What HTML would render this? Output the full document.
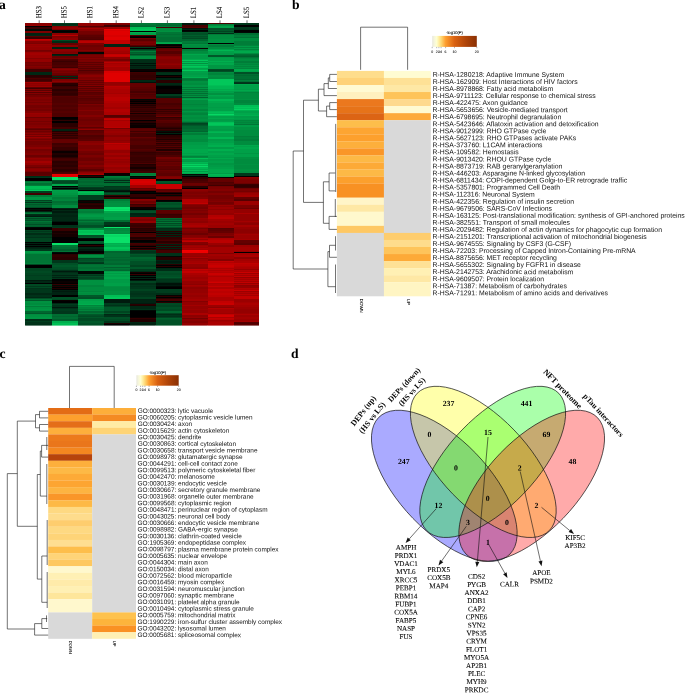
<!DOCTYPE html>
<html><head><meta charset="utf-8"><title>Figure</title><style>html,body{margin:0;padding:0;background:#fff}svg{display:block}</style></head><body>
<svg text-rendering="geometricPrecision" width="685" height="693" viewBox="0 0 685 693">
<rect width="685" height="693" fill="#fff"/>
<g shape-rendering="crispEdges">
<rect x="25.1" y="23" width="27.1" height="2" fill="#8c0000"/>
<rect x="25.1" y="25" width="27.1" height="1" fill="#940000"/>
<rect x="25.1" y="26" width="27.1" height="1" fill="#000000"/>
<rect x="25.1" y="27" width="27.1" height="2" fill="#380000"/>
<rect x="25.1" y="29" width="27.1" height="2" fill="#000904"/>
<rect x="25.1" y="31" width="27.1" height="2" fill="#7c0000"/>
<rect x="25.1" y="33" width="27.1" height="2" fill="#002312"/>
<rect x="25.1" y="35" width="27.1" height="1" fill="#002814"/>
<rect x="25.1" y="36" width="27.1" height="1" fill="#550000"/>
<rect x="25.1" y="37" width="27.1" height="2" fill="#380000"/>
<rect x="25.1" y="39" width="27.1" height="1" fill="#c20000"/>
<rect x="25.1" y="40" width="27.1" height="1" fill="#b20000"/>
<rect x="25.1" y="41" width="27.1" height="2" fill="#840000"/>
<rect x="25.1" y="43" width="27.1" height="1" fill="#7c0000"/>
<rect x="25.1" y="44" width="27.1" height="1" fill="#9b0000"/>
<rect x="25.1" y="45" width="27.1" height="1" fill="#940000"/>
<rect x="25.1" y="46" width="27.1" height="1" fill="#9b0000"/>
<rect x="25.1" y="47" width="27.1" height="3" fill="#940000"/>
<rect x="25.1" y="50" width="27.1" height="1" fill="#740000"/>
<rect x="25.1" y="51" width="27.1" height="1" fill="#7c0000"/>
<rect x="25.1" y="52" width="27.1" height="1" fill="#9b0000"/>
<rect x="25.1" y="53" width="27.1" height="2" fill="#a30000"/>
<rect x="25.1" y="55" width="27.1" height="3" fill="#9b0000"/>
<rect x="25.1" y="58" width="27.1" height="1" fill="#840000"/>
<rect x="25.1" y="59" width="27.1" height="3" fill="#940000"/>
<rect x="25.1" y="62" width="27.1" height="1" fill="#740000"/>
<rect x="25.1" y="63" width="27.1" height="2" fill="#7c0000"/>
<rect x="25.1" y="65" width="27.1" height="1" fill="#740000"/>
<rect x="25.1" y="66" width="27.1" height="1" fill="#840000"/>
<rect x="25.1" y="67" width="27.1" height="1" fill="#7c0000"/>
<rect x="25.1" y="68" width="27.1" height="1" fill="#740000"/>
<rect x="25.1" y="69" width="27.1" height="3" fill="#3f0000"/>
<rect x="25.1" y="72" width="27.1" height="3" fill="#002814"/>
<rect x="25.1" y="75" width="27.1" height="2" fill="#2a0000"/>
<rect x="25.1" y="77" width="27.1" height="1" fill="#310000"/>
<rect x="25.1" y="78" width="27.1" height="1" fill="#4e0000"/>
<rect x="25.1" y="79" width="27.1" height="2" fill="#3f0000"/>
<rect x="25.1" y="81" width="27.1" height="1" fill="#4e0000"/>
<rect x="25.1" y="82" width="27.1" height="1" fill="#a30000"/>
<rect x="25.1" y="83" width="27.1" height="1" fill="#8c0000"/>
<rect x="25.1" y="84" width="27.1" height="1" fill="#940000"/>
<rect x="25.1" y="85" width="27.1" height="1" fill="#8c0000"/>
<rect x="25.1" y="86" width="27.1" height="1" fill="#9b0000"/>
<rect x="25.1" y="87" width="27.1" height="1" fill="#5c0000"/>
<rect x="25.1" y="88" width="27.1" height="1" fill="#3f0000"/>
<rect x="25.1" y="89" width="27.1" height="1" fill="#7c0000"/>
<rect x="25.1" y="90" width="27.1" height="1" fill="#5c0000"/>
<rect x="25.1" y="91" width="27.1" height="1" fill="#8c0000"/>
<rect x="25.1" y="92" width="27.1" height="1" fill="#550000"/>
<rect x="25.1" y="93" width="27.1" height="1" fill="#840000"/>
<rect x="25.1" y="94" width="27.1" height="1" fill="#640000"/>
<rect x="25.1" y="95" width="27.1" height="2" fill="#740000"/>
<rect x="25.1" y="97" width="27.1" height="2" fill="#840000"/>
<rect x="25.1" y="99" width="27.1" height="2" fill="#7c0000"/>
<rect x="25.1" y="101" width="27.1" height="1" fill="#840000"/>
<rect x="25.1" y="102" width="27.1" height="1" fill="#740000"/>
<rect x="25.1" y="103" width="27.1" height="2" fill="#840000"/>
<rect x="25.1" y="105" width="27.1" height="3" fill="#740000"/>
<rect x="25.1" y="108" width="27.1" height="1" fill="#7c0000"/>
<rect x="25.1" y="109" width="27.1" height="2" fill="#740000"/>
<rect x="25.1" y="111" width="27.1" height="2" fill="#840000"/>
<rect x="25.1" y="113" width="27.1" height="1" fill="#9b0000"/>
<rect x="25.1" y="114" width="27.1" height="3" fill="#940000"/>
<rect x="25.1" y="117" width="27.1" height="1" fill="#6c0000"/>
<rect x="25.1" y="118" width="27.1" height="3" fill="#840000"/>
<rect x="25.1" y="121" width="27.1" height="1" fill="#740000"/>
<rect x="25.1" y="122" width="27.1" height="1" fill="#840000"/>
<rect x="25.1" y="123" width="27.1" height="2" fill="#7c0000"/>
<rect x="25.1" y="125" width="27.1" height="2" fill="#840000"/>
<rect x="25.1" y="127" width="27.1" height="1" fill="#8c0000"/>
<rect x="25.1" y="128" width="27.1" height="1" fill="#6c0000"/>
<rect x="25.1" y="129" width="27.1" height="1" fill="#5c0000"/>
<rect x="25.1" y="130" width="27.1" height="1" fill="#7c0000"/>
<rect x="25.1" y="131" width="27.1" height="1" fill="#6c0000"/>
<rect x="25.1" y="132" width="27.1" height="1" fill="#7c0000"/>
<rect x="25.1" y="133" width="27.1" height="1" fill="#8c0000"/>
<rect x="25.1" y="134" width="27.1" height="1" fill="#740000"/>
<rect x="25.1" y="135" width="27.1" height="1" fill="#940000"/>
<rect x="25.1" y="136" width="27.1" height="1" fill="#740000"/>
<rect x="25.1" y="137" width="27.1" height="1" fill="#9b0000"/>
<rect x="25.1" y="138" width="27.1" height="1" fill="#840000"/>
<rect x="25.1" y="139" width="27.1" height="1" fill="#740000"/>
<rect x="25.1" y="140" width="27.1" height="1" fill="#840000"/>
<rect x="25.1" y="141" width="27.1" height="4" fill="#740000"/>
<rect x="25.1" y="145" width="27.1" height="2" fill="#7c0000"/>
<rect x="25.1" y="147" width="27.1" height="2" fill="#8c0000"/>
<rect x="25.1" y="149" width="27.1" height="2" fill="#740000"/>
<rect x="25.1" y="151" width="27.1" height="2" fill="#7c0000"/>
<rect x="25.1" y="153" width="27.1" height="2" fill="#840000"/>
<rect x="25.1" y="155" width="27.1" height="2" fill="#6c0000"/>
<rect x="25.1" y="157" width="27.1" height="1" fill="#7c0000"/>
<rect x="25.1" y="158" width="27.1" height="1" fill="#940000"/>
<rect x="25.1" y="159" width="27.1" height="2" fill="#8c0000"/>
<rect x="25.1" y="161" width="27.1" height="2" fill="#a30000"/>
<rect x="25.1" y="163" width="27.1" height="2" fill="#940000"/>
<rect x="25.1" y="165" width="27.1" height="2" fill="#7c0000"/>
<rect x="25.1" y="167" width="27.1" height="1" fill="#6c0000"/>
<rect x="25.1" y="168" width="27.1" height="1" fill="#840000"/>
<rect x="25.1" y="169" width="27.1" height="2" fill="#8c0000"/>
<rect x="25.1" y="171" width="27.1" height="1" fill="#7c0000"/>
<rect x="25.1" y="172" width="27.1" height="3" fill="#5c0000"/>
<rect x="25.1" y="175" width="27.1" height="1" fill="#640000"/>
<rect x="25.1" y="176" width="27.1" height="1" fill="#002d16"/>
<rect x="25.1" y="177" width="27.1" height="1" fill="#00371b"/>
<rect x="25.1" y="178" width="27.1" height="3" fill="#000000"/>
<rect x="25.1" y="181" width="27.1" height="1" fill="#007635"/>
<rect x="25.1" y="182" width="27.1" height="1" fill="#00843b"/>
<rect x="25.1" y="183" width="27.1" height="2" fill="#006e32"/>
<rect x="25.1" y="185" width="27.1" height="1" fill="#007d38"/>
<rect x="25.1" y="186" width="27.1" height="3" fill="#00be55"/>
<rect x="25.1" y="189" width="27.1" height="1" fill="#00af4e"/>
<rect x="25.1" y="190" width="27.1" height="1" fill="#02c75a"/>
<rect x="25.1" y="191" width="27.1" height="2" fill="#003d1e"/>
<rect x="25.1" y="193" width="27.1" height="1" fill="#460000"/>
<rect x="25.1" y="194" width="27.1" height="1" fill="#3f0000"/>
<rect x="25.1" y="195" width="27.1" height="2" fill="#007d38"/>
<rect x="25.1" y="197" width="27.1" height="3" fill="#009643"/>
<rect x="25.1" y="200" width="27.1" height="1" fill="#004420"/>
<rect x="25.1" y="201" width="27.1" height="1" fill="#00662f"/>
<rect x="25.1" y="202" width="27.1" height="1" fill="#00371b"/>
<rect x="25.1" y="203" width="27.1" height="1" fill="#006e32"/>
<rect x="25.1" y="204" width="27.1" height="1" fill="#005829"/>
<rect x="25.1" y="205" width="27.1" height="2" fill="#00662f"/>
<rect x="25.1" y="207" width="27.1" height="1" fill="#005026"/>
<rect x="25.1" y="208" width="27.1" height="1" fill="#000000"/>
<rect x="25.1" y="209" width="27.1" height="1" fill="#001209"/>
<rect x="25.1" y="210" width="27.1" height="1" fill="#0a0000"/>
<rect x="25.1" y="211" width="27.1" height="1" fill="#002312"/>
<rect x="25.1" y="212" width="27.1" height="1" fill="#005f2c"/>
<rect x="25.1" y="213" width="27.1" height="1" fill="#007635"/>
<rect x="25.1" y="214" width="27.1" height="1" fill="#002d16"/>
<rect x="25.1" y="215" width="27.1" height="1" fill="#002814"/>
<rect x="25.1" y="216" width="27.1" height="1" fill="#001a0e"/>
<rect x="25.1" y="217" width="27.1" height="1" fill="#00662f"/>
<rect x="25.1" y="218" width="27.1" height="1" fill="#004a23"/>
<rect x="25.1" y="219" width="27.1" height="1" fill="#005f2c"/>
<rect x="25.1" y="220" width="27.1" height="1" fill="#005026"/>
<rect x="25.1" y="221" width="27.1" height="1" fill="#007635"/>
<rect x="25.1" y="222" width="27.1" height="2" fill="#00662f"/>
<rect x="25.1" y="224" width="27.1" height="1" fill="#005026"/>
<rect x="25.1" y="225" width="27.1" height="1" fill="#00662f"/>
<rect x="25.1" y="226" width="27.1" height="1" fill="#005f2c"/>
<rect x="25.1" y="227" width="27.1" height="1" fill="#000904"/>
<rect x="25.1" y="228" width="27.1" height="2" fill="#000000"/>
<rect x="25.1" y="230" width="27.1" height="1" fill="#004420"/>
<rect x="25.1" y="231" width="27.1" height="1" fill="#00371b"/>
<rect x="25.1" y="232" width="27.1" height="1" fill="#004420"/>
<rect x="25.1" y="233" width="27.1" height="2" fill="#002d16"/>
<rect x="25.1" y="235" width="27.1" height="2" fill="#003d1e"/>
<rect x="25.1" y="237" width="27.1" height="1" fill="#003219"/>
<rect x="25.1" y="238" width="27.1" height="4" fill="#004420"/>
<rect x="25.1" y="242" width="27.1" height="1" fill="#000000"/>
<rect x="25.1" y="243" width="27.1" height="1" fill="#002312"/>
<rect x="25.1" y="244" width="27.1" height="1" fill="#000000"/>
<rect x="25.1" y="245" width="27.1" height="1" fill="#002312"/>
<rect x="25.1" y="246" width="27.1" height="1" fill="#000000"/>
<rect x="25.1" y="247" width="27.1" height="1" fill="#002312"/>
<rect x="25.1" y="248" width="27.1" height="1" fill="#002814"/>
<rect x="25.1" y="249" width="27.1" height="2" fill="#00371b"/>
<rect x="25.1" y="251" width="27.1" height="2" fill="#009643"/>
<rect x="25.1" y="253" width="27.1" height="1" fill="#008c3e"/>
<rect x="25.1" y="254" width="27.1" height="9" fill="#007635"/>
<rect x="25.1" y="263" width="27.1" height="1" fill="#007d38"/>
<rect x="25.1" y="264" width="27.1" height="1" fill="#004a23"/>
<rect x="25.1" y="265" width="27.1" height="3" fill="#000000"/>
<rect x="25.1" y="268" width="27.1" height="3" fill="#004420"/>
<rect x="25.1" y="271" width="27.1" height="2" fill="#004a23"/>
<rect x="25.1" y="273" width="27.1" height="2" fill="#004420"/>
<rect x="25.1" y="275" width="27.1" height="1" fill="#003d1e"/>
<rect x="25.1" y="276" width="27.1" height="4" fill="#004420"/>
<rect x="25.1" y="280" width="27.1" height="1" fill="#001a0e"/>
<rect x="25.1" y="281" width="27.1" height="2" fill="#002814"/>
<rect x="25.1" y="283" width="27.1" height="1" fill="#000000"/>
<rect x="25.1" y="284" width="27.1" height="2" fill="#004a23"/>
<rect x="25.1" y="286" width="27.1" height="1" fill="#00371b"/>
<rect x="25.1" y="287" width="27.1" height="1" fill="#004a23"/>
<rect x="25.1" y="288" width="27.1" height="1" fill="#003219"/>
<rect x="25.1" y="289" width="27.1" height="4" fill="#00371b"/>
<rect x="25.1" y="293" width="27.1" height="2" fill="#002814"/>
<rect x="25.1" y="295" width="27.1" height="2" fill="#003219"/>
<rect x="25.1" y="297" width="27.1" height="1" fill="#002814"/>
<rect x="25.1" y="298" width="27.1" height="1" fill="#005026"/>
<rect x="25.1" y="299" width="27.1" height="1" fill="#006e32"/>
<rect x="25.1" y="300" width="27.1" height="1" fill="#005829"/>
<rect x="25.1" y="301" width="27.1" height="2" fill="#009140"/>
<rect x="25.1" y="303" width="27.1" height="2" fill="#008c3e"/>
<rect x="25.1" y="305" width="27.1" height="1" fill="#009643"/>
<rect x="25.1" y="306" width="27.1" height="1" fill="#007d38"/>
<rect x="25.1" y="307" width="27.1" height="2" fill="#009140"/>
<rect x="25.1" y="309" width="27.1" height="1" fill="#009643"/>
<rect x="25.1" y="310" width="27.1" height="1" fill="#009140"/>
<rect x="25.1" y="311" width="27.1" height="2" fill="#00662f"/>
<rect x="25.1" y="313" width="27.1" height="1" fill="#005829"/>
<rect x="25.1" y="314" width="27.1" height="1" fill="#008c3e"/>
<rect x="25.1" y="315" width="27.1" height="2" fill="#009140"/>
<rect x="25.1" y="317" width="27.1" height="2" fill="#009643"/>
<rect x="25.1" y="319" width="27.1" height="2" fill="#002d16"/>
<rect x="25.1" y="321" width="27.1" height="1" fill="#003d1e"/>
<rect x="25.1" y="322" width="27.1" height="3" fill="#003219"/>
<rect x="51.9" y="23" width="26.2" height="1" fill="#003d1e"/>
<rect x="51.9" y="24" width="26.2" height="1" fill="#002d16"/>
<rect x="51.9" y="25" width="26.2" height="1" fill="#00371b"/>
<rect x="51.9" y="26" width="26.2" height="1" fill="#840000"/>
<rect x="51.9" y="27" width="26.2" height="2" fill="#940000"/>
<rect x="51.9" y="29" width="26.2" height="1" fill="#7c0000"/>
<rect x="51.9" y="30" width="26.2" height="1" fill="#000904"/>
<rect x="51.9" y="31" width="26.2" height="1" fill="#000000"/>
<rect x="51.9" y="32" width="26.2" height="1" fill="#000904"/>
<rect x="51.9" y="33" width="26.2" height="2" fill="#8c0000"/>
<rect x="51.9" y="35" width="26.2" height="1" fill="#ba0000"/>
<rect x="51.9" y="36" width="26.2" height="1" fill="#7c0000"/>
<rect x="51.9" y="37" width="26.2" height="1" fill="#840000"/>
<rect x="51.9" y="38" width="26.2" height="2" fill="#8c0000"/>
<rect x="51.9" y="40" width="26.2" height="1" fill="#004a23"/>
<rect x="51.9" y="41" width="26.2" height="2" fill="#002d16"/>
<rect x="51.9" y="43" width="26.2" height="2" fill="#640000"/>
<rect x="51.9" y="45" width="26.2" height="2" fill="#8c0000"/>
<rect x="51.9" y="47" width="26.2" height="2" fill="#002312"/>
<rect x="51.9" y="49" width="26.2" height="2" fill="#8c0000"/>
<rect x="51.9" y="51" width="26.2" height="1" fill="#840000"/>
<rect x="51.9" y="52" width="26.2" height="1" fill="#7c0000"/>
<rect x="51.9" y="53" width="26.2" height="1" fill="#840000"/>
<rect x="51.9" y="54" width="26.2" height="1" fill="#001a0e"/>
<rect x="51.9" y="55" width="26.2" height="1" fill="#002814"/>
<rect x="51.9" y="56" width="26.2" height="2" fill="#640000"/>
<rect x="51.9" y="58" width="26.2" height="1" fill="#740000"/>
<rect x="51.9" y="59" width="26.2" height="1" fill="#4e0000"/>
<rect x="51.9" y="60" width="26.2" height="1" fill="#460000"/>
<rect x="51.9" y="61" width="26.2" height="1" fill="#380000"/>
<rect x="51.9" y="62" width="26.2" height="3" fill="#460000"/>
<rect x="51.9" y="65" width="26.2" height="2" fill="#4e0000"/>
<rect x="51.9" y="67" width="26.2" height="1" fill="#3f0000"/>
<rect x="51.9" y="68" width="26.2" height="1" fill="#7c0000"/>
<rect x="51.9" y="69" width="26.2" height="1" fill="#8c0000"/>
<rect x="51.9" y="70" width="26.2" height="1" fill="#7c0000"/>
<rect x="51.9" y="71" width="26.2" height="1" fill="#740000"/>
<rect x="51.9" y="72" width="26.2" height="1" fill="#7c0000"/>
<rect x="51.9" y="73" width="26.2" height="2" fill="#6c0000"/>
<rect x="51.9" y="75" width="26.2" height="1" fill="#550000"/>
<rect x="51.9" y="76" width="26.2" height="1" fill="#002d16"/>
<rect x="51.9" y="77" width="26.2" height="1" fill="#3f0000"/>
<rect x="51.9" y="78" width="26.2" height="1" fill="#002814"/>
<rect x="51.9" y="79" width="26.2" height="2" fill="#7c0000"/>
<rect x="51.9" y="81" width="26.2" height="1" fill="#8c0000"/>
<rect x="51.9" y="82" width="26.2" height="1" fill="#6c0000"/>
<rect x="51.9" y="83" width="26.2" height="2" fill="#2a0000"/>
<rect x="51.9" y="85" width="26.2" height="1" fill="#200000"/>
<rect x="51.9" y="86" width="26.2" height="1" fill="#380000"/>
<rect x="51.9" y="87" width="26.2" height="2" fill="#3f0000"/>
<rect x="51.9" y="89" width="26.2" height="2" fill="#2a0000"/>
<rect x="51.9" y="91" width="26.2" height="2" fill="#380000"/>
<rect x="51.9" y="93" width="26.2" height="2" fill="#310000"/>
<rect x="51.9" y="95" width="26.2" height="1" fill="#380000"/>
<rect x="51.9" y="96" width="26.2" height="1" fill="#550000"/>
<rect x="51.9" y="97" width="26.2" height="6" fill="#4e0000"/>
<rect x="51.9" y="103" width="26.2" height="2" fill="#550000"/>
<rect x="51.9" y="105" width="26.2" height="2" fill="#4e0000"/>
<rect x="51.9" y="107" width="26.2" height="2" fill="#550000"/>
<rect x="51.9" y="109" width="26.2" height="2" fill="#4e0000"/>
<rect x="51.9" y="111" width="26.2" height="2" fill="#550000"/>
<rect x="51.9" y="113" width="26.2" height="4" fill="#4e0000"/>
<rect x="51.9" y="117" width="26.2" height="2" fill="#000000"/>
<rect x="51.9" y="119" width="26.2" height="1" fill="#0a0000"/>
<rect x="51.9" y="120" width="26.2" height="1" fill="#310000"/>
<rect x="51.9" y="121" width="26.2" height="2" fill="#000000"/>
<rect x="51.9" y="123" width="26.2" height="4" fill="#2a0000"/>
<rect x="51.9" y="127" width="26.2" height="2" fill="#3f0000"/>
<rect x="51.9" y="129" width="26.2" height="2" fill="#002312"/>
<rect x="51.9" y="131" width="26.2" height="1" fill="#200000"/>
<rect x="51.9" y="132" width="26.2" height="1" fill="#460000"/>
<rect x="51.9" y="133" width="26.2" height="1" fill="#2a0000"/>
<rect x="51.9" y="134" width="26.2" height="1" fill="#460000"/>
<rect x="51.9" y="135" width="26.2" height="1" fill="#2a0000"/>
<rect x="51.9" y="136" width="26.2" height="1" fill="#460000"/>
<rect x="51.9" y="137" width="26.2" height="2" fill="#380000"/>
<rect x="51.9" y="139" width="26.2" height="4" fill="#640000"/>
<rect x="51.9" y="143" width="26.2" height="2" fill="#3f0000"/>
<rect x="51.9" y="145" width="26.2" height="2" fill="#460000"/>
<rect x="51.9" y="147" width="26.2" height="3" fill="#380000"/>
<rect x="51.9" y="150" width="26.2" height="1" fill="#2a0000"/>
<rect x="51.9" y="151" width="26.2" height="2" fill="#0a0000"/>
<rect x="51.9" y="153" width="26.2" height="2" fill="#200000"/>
<rect x="51.9" y="155" width="26.2" height="2" fill="#150000"/>
<rect x="51.9" y="157" width="26.2" height="1" fill="#2a0000"/>
<rect x="51.9" y="158" width="26.2" height="1" fill="#3f0000"/>
<rect x="51.9" y="159" width="26.2" height="1" fill="#460000"/>
<rect x="51.9" y="160" width="26.2" height="1" fill="#3f0000"/>
<rect x="51.9" y="161" width="26.2" height="2" fill="#2a0000"/>
<rect x="51.9" y="163" width="26.2" height="2" fill="#310000"/>
<rect x="51.9" y="165" width="26.2" height="2" fill="#2a0000"/>
<rect x="51.9" y="167" width="26.2" height="2" fill="#380000"/>
<rect x="51.9" y="169" width="26.2" height="2" fill="#2a0000"/>
<rect x="51.9" y="171" width="26.2" height="1" fill="#310000"/>
<rect x="51.9" y="172" width="26.2" height="1" fill="#460000"/>
<rect x="51.9" y="173" width="26.2" height="1" fill="#4e0000"/>
<rect x="51.9" y="174" width="26.2" height="1" fill="#e70000"/>
<rect x="51.9" y="175" width="26.2" height="2" fill="#e00000"/>
<rect x="51.9" y="177" width="26.2" height="3" fill="#0ae169"/>
<rect x="51.9" y="180" width="26.2" height="1" fill="#005829"/>
<rect x="51.9" y="181" width="26.2" height="2" fill="#004a23"/>
<rect x="51.9" y="183" width="26.2" height="1" fill="#005026"/>
<rect x="51.9" y="184" width="26.2" height="2" fill="#00a84b"/>
<rect x="51.9" y="186" width="26.2" height="1" fill="#000000"/>
<rect x="51.9" y="187" width="26.2" height="1" fill="#003219"/>
<rect x="51.9" y="188" width="26.2" height="1" fill="#000000"/>
<rect x="51.9" y="189" width="26.2" height="1" fill="#00371b"/>
<rect x="51.9" y="190" width="26.2" height="1" fill="#00a048"/>
<rect x="51.9" y="191" width="26.2" height="2" fill="#009b46"/>
<rect x="51.9" y="193" width="26.2" height="2" fill="#009643"/>
<rect x="51.9" y="195" width="26.2" height="2" fill="#008c3e"/>
<rect x="51.9" y="197" width="26.2" height="2" fill="#007d38"/>
<rect x="51.9" y="199" width="26.2" height="2" fill="#00843b"/>
<rect x="51.9" y="201" width="26.2" height="2" fill="#006e32"/>
<rect x="51.9" y="203" width="26.2" height="2" fill="#007635"/>
<rect x="51.9" y="205" width="26.2" height="3" fill="#008c3e"/>
<rect x="51.9" y="208" width="26.2" height="1" fill="#002312"/>
<rect x="51.9" y="209" width="26.2" height="1" fill="#001209"/>
<rect x="51.9" y="210" width="26.2" height="1" fill="#002814"/>
<rect x="51.9" y="211" width="26.2" height="2" fill="#001a0e"/>
<rect x="51.9" y="213" width="26.2" height="2" fill="#002814"/>
<rect x="51.9" y="215" width="26.2" height="2" fill="#002312"/>
<rect x="51.9" y="217" width="26.2" height="4" fill="#002814"/>
<rect x="51.9" y="221" width="26.2" height="1" fill="#001a0e"/>
<rect x="51.9" y="222" width="26.2" height="3" fill="#000000"/>
<rect x="51.9" y="225" width="26.2" height="2" fill="#003219"/>
<rect x="51.9" y="227" width="26.2" height="1" fill="#00371b"/>
<rect x="51.9" y="228" width="26.2" height="3" fill="#380000"/>
<rect x="51.9" y="231" width="26.2" height="2" fill="#150000"/>
<rect x="51.9" y="233" width="26.2" height="1" fill="#200000"/>
<rect x="51.9" y="234" width="26.2" height="3" fill="#150000"/>
<rect x="51.9" y="237" width="26.2" height="6" fill="#000000"/>
<rect x="51.9" y="243" width="26.2" height="2" fill="#0ae169"/>
<rect x="51.9" y="245" width="26.2" height="2" fill="#007635"/>
<rect x="51.9" y="247" width="26.2" height="2" fill="#006e32"/>
<rect x="51.9" y="249" width="26.2" height="2" fill="#005f2c"/>
<rect x="51.9" y="251" width="26.2" height="1" fill="#007635"/>
<rect x="51.9" y="252" width="26.2" height="1" fill="#000904"/>
<rect x="51.9" y="253" width="26.2" height="1" fill="#000000"/>
<rect x="51.9" y="254" width="26.2" height="1" fill="#2a0000"/>
<rect x="51.9" y="255" width="26.2" height="2" fill="#310000"/>
<rect x="51.9" y="257" width="26.2" height="3" fill="#2a0000"/>
<rect x="51.9" y="260" width="26.2" height="3" fill="#00371b"/>
<rect x="51.9" y="263" width="26.2" height="2" fill="#005026"/>
<rect x="51.9" y="265" width="26.2" height="2" fill="#005829"/>
<rect x="51.9" y="267" width="26.2" height="2" fill="#005026"/>
<rect x="51.9" y="269" width="26.2" height="1" fill="#004a23"/>
<rect x="51.9" y="270" width="26.2" height="1" fill="#003219"/>
<rect x="51.9" y="271" width="26.2" height="1" fill="#001a0e"/>
<rect x="51.9" y="272" width="26.2" height="1" fill="#002d16"/>
<rect x="51.9" y="273" width="26.2" height="2" fill="#00371b"/>
<rect x="51.9" y="275" width="26.2" height="1" fill="#002312"/>
<rect x="51.9" y="276" width="26.2" height="1" fill="#00371b"/>
<rect x="51.9" y="277" width="26.2" height="1" fill="#002312"/>
<rect x="51.9" y="278" width="26.2" height="1" fill="#00371b"/>
<rect x="51.9" y="279" width="26.2" height="2" fill="#000000"/>
<rect x="51.9" y="281" width="26.2" height="2" fill="#0a0000"/>
<rect x="51.9" y="283" width="26.2" height="1" fill="#000000"/>
<rect x="51.9" y="284" width="26.2" height="1" fill="#310000"/>
<rect x="51.9" y="285" width="26.2" height="1" fill="#000904"/>
<rect x="51.9" y="286" width="26.2" height="1" fill="#200000"/>
<rect x="51.9" y="287" width="26.2" height="1" fill="#000000"/>
<rect x="51.9" y="288" width="26.2" height="1" fill="#200000"/>
<rect x="51.9" y="289" width="26.2" height="1" fill="#000000"/>
<rect x="51.9" y="290" width="26.2" height="1" fill="#002312"/>
<rect x="51.9" y="291" width="26.2" height="1" fill="#001a0e"/>
<rect x="51.9" y="292" width="26.2" height="3" fill="#002312"/>
<rect x="51.9" y="295" width="26.2" height="2" fill="#000000"/>
<rect x="51.9" y="297" width="26.2" height="2" fill="#005026"/>
<rect x="51.9" y="299" width="26.2" height="1" fill="#004a23"/>
<rect x="51.9" y="300" width="26.2" height="1" fill="#0a0000"/>
<rect x="51.9" y="301" width="26.2" height="2" fill="#000000"/>
<rect x="51.9" y="303" width="26.2" height="1" fill="#002814"/>
<rect x="51.9" y="304" width="26.2" height="1" fill="#003d1e"/>
<rect x="51.9" y="305" width="26.2" height="2" fill="#003219"/>
<rect x="51.9" y="307" width="26.2" height="1" fill="#001a0e"/>
<rect x="51.9" y="308" width="26.2" height="1" fill="#003219"/>
<rect x="51.9" y="309" width="26.2" height="2" fill="#003d1e"/>
<rect x="51.9" y="311" width="26.2" height="3" fill="#00371b"/>
<rect x="51.9" y="314" width="26.2" height="2" fill="#006e32"/>
<rect x="51.9" y="316" width="26.2" height="1" fill="#00662f"/>
<rect x="51.9" y="317" width="26.2" height="2" fill="#006e32"/>
<rect x="51.9" y="319" width="26.2" height="2" fill="#005f2c"/>
<rect x="51.9" y="321" width="26.2" height="2" fill="#00af4e"/>
<rect x="51.9" y="323" width="26.2" height="2" fill="#00be55"/>
<rect x="77.8" y="23" width="26.3" height="2" fill="#940000"/>
<rect x="77.8" y="25" width="26.3" height="1" fill="#8c0000"/>
<rect x="77.8" y="26" width="26.3" height="1" fill="#550000"/>
<rect x="77.8" y="27" width="26.3" height="1" fill="#7c0000"/>
<rect x="77.8" y="28" width="26.3" height="1" fill="#a30000"/>
<rect x="77.8" y="29" width="26.3" height="2" fill="#8c0000"/>
<rect x="77.8" y="31" width="26.3" height="3" fill="#740000"/>
<rect x="77.8" y="34" width="26.3" height="1" fill="#6c0000"/>
<rect x="77.8" y="35" width="26.3" height="2" fill="#5c0000"/>
<rect x="77.8" y="37" width="26.3" height="2" fill="#550000"/>
<rect x="77.8" y="39" width="26.3" height="1" fill="#4e0000"/>
<rect x="77.8" y="40" width="26.3" height="1" fill="#a30000"/>
<rect x="77.8" y="41" width="26.3" height="2" fill="#ba0000"/>
<rect x="77.8" y="43" width="26.3" height="2" fill="#7c0000"/>
<rect x="77.8" y="45" width="26.3" height="2" fill="#6c0000"/>
<rect x="77.8" y="47" width="26.3" height="3" fill="#740000"/>
<rect x="77.8" y="50" width="26.3" height="1" fill="#840000"/>
<rect x="77.8" y="51" width="26.3" height="1" fill="#6c0000"/>
<rect x="77.8" y="52" width="26.3" height="2" fill="#000904"/>
<rect x="77.8" y="54" width="26.3" height="1" fill="#6c0000"/>
<rect x="77.8" y="55" width="26.3" height="2" fill="#7c0000"/>
<rect x="77.8" y="57" width="26.3" height="1" fill="#740000"/>
<rect x="77.8" y="58" width="26.3" height="1" fill="#840000"/>
<rect x="77.8" y="59" width="26.3" height="1" fill="#740000"/>
<rect x="77.8" y="60" width="26.3" height="2" fill="#7c0000"/>
<rect x="77.8" y="62" width="26.3" height="1" fill="#5c0000"/>
<rect x="77.8" y="63" width="26.3" height="1" fill="#740000"/>
<rect x="77.8" y="64" width="26.3" height="1" fill="#5c0000"/>
<rect x="77.8" y="65" width="26.3" height="1" fill="#740000"/>
<rect x="77.8" y="66" width="26.3" height="1" fill="#5c0000"/>
<rect x="77.8" y="67" width="26.3" height="1" fill="#6c0000"/>
<rect x="77.8" y="68" width="26.3" height="1" fill="#550000"/>
<rect x="77.8" y="69" width="26.3" height="1" fill="#6c0000"/>
<rect x="77.8" y="70" width="26.3" height="1" fill="#4e0000"/>
<rect x="77.8" y="71" width="26.3" height="2" fill="#640000"/>
<rect x="77.8" y="73" width="26.3" height="1" fill="#6c0000"/>
<rect x="77.8" y="74" width="26.3" height="1" fill="#7c0000"/>
<rect x="77.8" y="75" width="26.3" height="2" fill="#8c0000"/>
<rect x="77.8" y="77" width="26.3" height="2" fill="#7c0000"/>
<rect x="77.8" y="79" width="26.3" height="1" fill="#840000"/>
<rect x="77.8" y="80" width="26.3" height="1" fill="#640000"/>
<rect x="77.8" y="81" width="26.3" height="1" fill="#7c0000"/>
<rect x="77.8" y="82" width="26.3" height="1" fill="#640000"/>
<rect x="77.8" y="83" width="26.3" height="1" fill="#7c0000"/>
<rect x="77.8" y="84" width="26.3" height="1" fill="#640000"/>
<rect x="77.8" y="85" width="26.3" height="1" fill="#840000"/>
<rect x="77.8" y="86" width="26.3" height="1" fill="#550000"/>
<rect x="77.8" y="87" width="26.3" height="1" fill="#7c0000"/>
<rect x="77.8" y="88" width="26.3" height="1" fill="#5c0000"/>
<rect x="77.8" y="89" width="26.3" height="1" fill="#740000"/>
<rect x="77.8" y="90" width="26.3" height="1" fill="#5c0000"/>
<rect x="77.8" y="91" width="26.3" height="1" fill="#740000"/>
<rect x="77.8" y="92" width="26.3" height="1" fill="#550000"/>
<rect x="77.8" y="93" width="26.3" height="2" fill="#5c0000"/>
<rect x="77.8" y="95" width="26.3" height="1" fill="#6c0000"/>
<rect x="77.8" y="96" width="26.3" height="1" fill="#5c0000"/>
<rect x="77.8" y="97" width="26.3" height="1" fill="#640000"/>
<rect x="77.8" y="98" width="26.3" height="1" fill="#550000"/>
<rect x="77.8" y="99" width="26.3" height="2" fill="#5c0000"/>
<rect x="77.8" y="101" width="26.3" height="2" fill="#640000"/>
<rect x="77.8" y="103" width="26.3" height="1" fill="#5c0000"/>
<rect x="77.8" y="104" width="26.3" height="1" fill="#7c0000"/>
<rect x="77.8" y="105" width="26.3" height="2" fill="#6c0000"/>
<rect x="77.8" y="107" width="26.3" height="3" fill="#740000"/>
<rect x="77.8" y="110" width="26.3" height="1" fill="#840000"/>
<rect x="77.8" y="111" width="26.3" height="4" fill="#740000"/>
<rect x="77.8" y="115" width="26.3" height="2" fill="#840000"/>
<rect x="77.8" y="117" width="26.3" height="2" fill="#740000"/>
<rect x="77.8" y="119" width="26.3" height="2" fill="#6c0000"/>
<rect x="77.8" y="121" width="26.3" height="4" fill="#740000"/>
<rect x="77.8" y="125" width="26.3" height="2" fill="#7c0000"/>
<rect x="77.8" y="127" width="26.3" height="1" fill="#5c0000"/>
<rect x="77.8" y="128" width="26.3" height="1" fill="#740000"/>
<rect x="77.8" y="129" width="26.3" height="1" fill="#940000"/>
<rect x="77.8" y="130" width="26.3" height="1" fill="#550000"/>
<rect x="77.8" y="131" width="26.3" height="2" fill="#5c0000"/>
<rect x="77.8" y="133" width="26.3" height="2" fill="#640000"/>
<rect x="77.8" y="135" width="26.3" height="2" fill="#4e0000"/>
<rect x="77.8" y="137" width="26.3" height="2" fill="#550000"/>
<rect x="77.8" y="139" width="26.3" height="2" fill="#5c0000"/>
<rect x="77.8" y="141" width="26.3" height="2" fill="#840000"/>
<rect x="77.8" y="143" width="26.3" height="2" fill="#8c0000"/>
<rect x="77.8" y="145" width="26.3" height="4" fill="#7c0000"/>
<rect x="77.8" y="149" width="26.3" height="2" fill="#840000"/>
<rect x="77.8" y="151" width="26.3" height="2" fill="#740000"/>
<rect x="77.8" y="153" width="26.3" height="2" fill="#6c0000"/>
<rect x="77.8" y="155" width="26.3" height="2" fill="#7c0000"/>
<rect x="77.8" y="157" width="26.3" height="1" fill="#740000"/>
<rect x="77.8" y="158" width="26.3" height="3" fill="#6c0000"/>
<rect x="77.8" y="161" width="26.3" height="2" fill="#7c0000"/>
<rect x="77.8" y="163" width="26.3" height="2" fill="#740000"/>
<rect x="77.8" y="165" width="26.3" height="2" fill="#840000"/>
<rect x="77.8" y="167" width="26.3" height="2" fill="#740000"/>
<rect x="77.8" y="169" width="26.3" height="2" fill="#5c0000"/>
<rect x="77.8" y="171" width="26.3" height="1" fill="#740000"/>
<rect x="77.8" y="172" width="26.3" height="1" fill="#8c0000"/>
<rect x="77.8" y="173" width="26.3" height="1" fill="#940000"/>
<rect x="77.8" y="174" width="26.3" height="1" fill="#ab0000"/>
<rect x="77.8" y="175" width="26.3" height="1" fill="#000904"/>
<rect x="77.8" y="176" width="26.3" height="1" fill="#2a0000"/>
<rect x="77.8" y="177" width="26.3" height="1" fill="#000000"/>
<rect x="77.8" y="178" width="26.3" height="2" fill="#00662f"/>
<rect x="77.8" y="180" width="26.3" height="1" fill="#006e32"/>
<rect x="77.8" y="181" width="26.3" height="2" fill="#00662f"/>
<rect x="77.8" y="183" width="26.3" height="2" fill="#006e32"/>
<rect x="77.8" y="185" width="26.3" height="1" fill="#005f2c"/>
<rect x="77.8" y="186" width="26.3" height="1" fill="#00662f"/>
<rect x="77.8" y="187" width="26.3" height="1" fill="#003d1e"/>
<rect x="77.8" y="188" width="26.3" height="1" fill="#003219"/>
<rect x="77.8" y="189" width="26.3" height="1" fill="#00371b"/>
<rect x="77.8" y="190" width="26.3" height="1" fill="#000000"/>
<rect x="77.8" y="191" width="26.3" height="1" fill="#00af4e"/>
<rect x="77.8" y="192" width="26.3" height="1" fill="#00be55"/>
<rect x="77.8" y="193" width="26.3" height="2" fill="#00af4e"/>
<rect x="77.8" y="195" width="26.3" height="5" fill="#003d1e"/>
<rect x="77.8" y="200" width="26.3" height="1" fill="#000904"/>
<rect x="77.8" y="201" width="26.3" height="1" fill="#150000"/>
<rect x="77.8" y="202" width="26.3" height="1" fill="#000904"/>
<rect x="77.8" y="203" width="26.3" height="1" fill="#2a0000"/>
<rect x="77.8" y="204" width="26.3" height="1" fill="#310000"/>
<rect x="77.8" y="205" width="26.3" height="2" fill="#200000"/>
<rect x="77.8" y="207" width="26.3" height="2" fill="#2a0000"/>
<rect x="77.8" y="209" width="26.3" height="2" fill="#00843b"/>
<rect x="77.8" y="211" width="26.3" height="2" fill="#007d38"/>
<rect x="77.8" y="213" width="26.3" height="1" fill="#008c3e"/>
<rect x="77.8" y="214" width="26.3" height="1" fill="#009643"/>
<rect x="77.8" y="215" width="26.3" height="2" fill="#009b46"/>
<rect x="77.8" y="217" width="26.3" height="2" fill="#009140"/>
<rect x="77.8" y="219" width="26.3" height="1" fill="#007d38"/>
<rect x="77.8" y="220" width="26.3" height="1" fill="#00662f"/>
<rect x="77.8" y="221" width="26.3" height="1" fill="#007d38"/>
<rect x="77.8" y="222" width="26.3" height="1" fill="#006e32"/>
<rect x="77.8" y="223" width="26.3" height="2" fill="#00662f"/>
<rect x="77.8" y="225" width="26.3" height="2" fill="#005026"/>
<rect x="77.8" y="227" width="26.3" height="1" fill="#005829"/>
<rect x="77.8" y="228" width="26.3" height="1" fill="#008c3e"/>
<rect x="77.8" y="229" width="26.3" height="1" fill="#009140"/>
<rect x="77.8" y="230" width="26.3" height="1" fill="#02c75a"/>
<rect x="77.8" y="231" width="26.3" height="2" fill="#00be55"/>
<rect x="77.8" y="233" width="26.3" height="2" fill="#02c75a"/>
<rect x="77.8" y="235" width="26.3" height="2" fill="#005026"/>
<rect x="77.8" y="237" width="26.3" height="1" fill="#005829"/>
<rect x="77.8" y="238" width="26.3" height="1" fill="#000904"/>
<rect x="77.8" y="239" width="26.3" height="2" fill="#000000"/>
<rect x="77.8" y="241" width="26.3" height="2" fill="#005829"/>
<rect x="77.8" y="243" width="26.3" height="1" fill="#005026"/>
<rect x="77.8" y="244" width="26.3" height="1" fill="#000000"/>
<rect x="77.8" y="245" width="26.3" height="1" fill="#310000"/>
<rect x="77.8" y="246" width="26.3" height="1" fill="#0a0000"/>
<rect x="77.8" y="247" width="26.3" height="2" fill="#002814"/>
<rect x="77.8" y="249" width="26.3" height="2" fill="#001a0e"/>
<rect x="77.8" y="251" width="26.3" height="2" fill="#000000"/>
<rect x="77.8" y="253" width="26.3" height="1" fill="#150000"/>
<rect x="77.8" y="254" width="26.3" height="1" fill="#006e32"/>
<rect x="77.8" y="255" width="26.3" height="2" fill="#009140"/>
<rect x="77.8" y="257" width="26.3" height="1" fill="#00843b"/>
<rect x="77.8" y="258" width="26.3" height="1" fill="#004420"/>
<rect x="77.8" y="259" width="26.3" height="2" fill="#005026"/>
<rect x="77.8" y="261" width="26.3" height="1" fill="#005829"/>
<rect x="77.8" y="262" width="26.3" height="1" fill="#003d1e"/>
<rect x="77.8" y="263" width="26.3" height="1" fill="#00371b"/>
<rect x="77.8" y="264" width="26.3" height="1" fill="#006e32"/>
<rect x="77.8" y="265" width="26.3" height="2" fill="#007635"/>
<rect x="77.8" y="267" width="26.3" height="2" fill="#006e32"/>
<rect x="77.8" y="269" width="26.3" height="2" fill="#007635"/>
<rect x="77.8" y="271" width="26.3" height="3" fill="#000904"/>
<rect x="77.8" y="274" width="26.3" height="1" fill="#004420"/>
<rect x="77.8" y="275" width="26.3" height="1" fill="#00371b"/>
<rect x="77.8" y="276" width="26.3" height="1" fill="#005026"/>
<rect x="77.8" y="277" width="26.3" height="2" fill="#004420"/>
<rect x="77.8" y="279" width="26.3" height="1" fill="#005829"/>
<rect x="77.8" y="280" width="26.3" height="5" fill="#009140"/>
<rect x="77.8" y="285" width="26.3" height="2" fill="#00843b"/>
<rect x="77.8" y="287" width="26.3" height="4" fill="#008c3e"/>
<rect x="77.8" y="291" width="26.3" height="1" fill="#00843b"/>
<rect x="77.8" y="292" width="26.3" height="1" fill="#009140"/>
<rect x="77.8" y="293" width="26.3" height="2" fill="#008c3e"/>
<rect x="77.8" y="295" width="26.3" height="2" fill="#005829"/>
<rect x="77.8" y="297" width="26.3" height="2" fill="#005026"/>
<rect x="77.8" y="299" width="26.3" height="2" fill="#00a048"/>
<rect x="77.8" y="301" width="26.3" height="3" fill="#00a84b"/>
<rect x="77.8" y="304" width="26.3" height="1" fill="#00af4e"/>
<rect x="77.8" y="305" width="26.3" height="1" fill="#00843b"/>
<rect x="77.8" y="306" width="26.3" height="1" fill="#009140"/>
<rect x="77.8" y="307" width="26.3" height="2" fill="#00843b"/>
<rect x="77.8" y="309" width="26.3" height="1" fill="#007635"/>
<rect x="77.8" y="310" width="26.3" height="1" fill="#00843b"/>
<rect x="77.8" y="311" width="26.3" height="2" fill="#00662f"/>
<rect x="77.8" y="313" width="26.3" height="1" fill="#007635"/>
<rect x="77.8" y="314" width="26.3" height="1" fill="#005829"/>
<rect x="77.8" y="315" width="26.3" height="1" fill="#005026"/>
<rect x="77.8" y="316" width="26.3" height="1" fill="#004a23"/>
<rect x="77.8" y="317" width="26.3" height="1" fill="#005829"/>
<rect x="77.8" y="318" width="26.3" height="3" fill="#004a23"/>
<rect x="77.8" y="321" width="26.3" height="2" fill="#005829"/>
<rect x="77.8" y="323" width="26.3" height="2" fill="#005026"/>
<rect x="103.8" y="23" width="26.3" height="1" fill="#840000"/>
<rect x="103.8" y="24" width="26.3" height="1" fill="#7c0000"/>
<rect x="103.8" y="25" width="26.3" height="2" fill="#3f0000"/>
<rect x="103.8" y="27" width="26.3" height="2" fill="#9b0000"/>
<rect x="103.8" y="29" width="26.3" height="1" fill="#ee0000"/>
<rect x="103.8" y="30" width="26.3" height="1" fill="#d80000"/>
<rect x="103.8" y="31" width="26.3" height="4" fill="#e00000"/>
<rect x="103.8" y="35" width="26.3" height="2" fill="#d80000"/>
<rect x="103.8" y="37" width="26.3" height="3" fill="#e00000"/>
<rect x="103.8" y="40" width="26.3" height="4" fill="#c20000"/>
<rect x="103.8" y="44" width="26.3" height="3" fill="#002312"/>
<rect x="103.8" y="47" width="26.3" height="4" fill="#ab0000"/>
<rect x="103.8" y="51" width="26.3" height="2" fill="#a30000"/>
<rect x="103.8" y="53" width="26.3" height="1" fill="#9b0000"/>
<rect x="103.8" y="54" width="26.3" height="1" fill="#c20000"/>
<rect x="103.8" y="55" width="26.3" height="1" fill="#ca0000"/>
<rect x="103.8" y="56" width="26.3" height="1" fill="#c20000"/>
<rect x="103.8" y="57" width="26.3" height="2" fill="#8c0000"/>
<rect x="103.8" y="59" width="26.3" height="2" fill="#740000"/>
<rect x="103.8" y="61" width="26.3" height="1" fill="#9b0000"/>
<rect x="103.8" y="62" width="26.3" height="1" fill="#ba0000"/>
<rect x="103.8" y="63" width="26.3" height="1" fill="#a30000"/>
<rect x="103.8" y="64" width="26.3" height="2" fill="#ab0000"/>
<rect x="103.8" y="66" width="26.3" height="1" fill="#b20000"/>
<rect x="103.8" y="67" width="26.3" height="4" fill="#a30000"/>
<rect x="103.8" y="71" width="26.3" height="2" fill="#d80000"/>
<rect x="103.8" y="73" width="26.3" height="9" fill="#e00000"/>
<rect x="103.8" y="82" width="26.3" height="3" fill="#940000"/>
<rect x="103.8" y="85" width="26.3" height="1" fill="#9b0000"/>
<rect x="103.8" y="86" width="26.3" height="1" fill="#ba0000"/>
<rect x="103.8" y="87" width="26.3" height="2" fill="#b20000"/>
<rect x="103.8" y="89" width="26.3" height="4" fill="#ab0000"/>
<rect x="103.8" y="93" width="26.3" height="1" fill="#a30000"/>
<rect x="103.8" y="94" width="26.3" height="3" fill="#b20000"/>
<rect x="103.8" y="97" width="26.3" height="4" fill="#ba0000"/>
<rect x="103.8" y="101" width="26.3" height="2" fill="#b20000"/>
<rect x="103.8" y="103" width="26.3" height="4" fill="#ab0000"/>
<rect x="103.8" y="107" width="26.3" height="2" fill="#a30000"/>
<rect x="103.8" y="109" width="26.3" height="3" fill="#b20000"/>
<rect x="103.8" y="112" width="26.3" height="3" fill="#ab0000"/>
<rect x="103.8" y="115" width="26.3" height="2" fill="#550000"/>
<rect x="103.8" y="117" width="26.3" height="1" fill="#640000"/>
<rect x="103.8" y="118" width="26.3" height="1" fill="#ba0000"/>
<rect x="103.8" y="119" width="26.3" height="1" fill="#c20000"/>
<rect x="103.8" y="120" width="26.3" height="1" fill="#a30000"/>
<rect x="103.8" y="121" width="26.3" height="6" fill="#b20000"/>
<rect x="103.8" y="127" width="26.3" height="1" fill="#ba0000"/>
<rect x="103.8" y="128" width="26.3" height="1" fill="#740000"/>
<rect x="103.8" y="129" width="26.3" height="2" fill="#940000"/>
<rect x="103.8" y="131" width="26.3" height="2" fill="#9b0000"/>
<rect x="103.8" y="133" width="26.3" height="2" fill="#940000"/>
<rect x="103.8" y="135" width="26.3" height="2" fill="#840000"/>
<rect x="103.8" y="137" width="26.3" height="3" fill="#940000"/>
<rect x="103.8" y="140" width="26.3" height="1" fill="#8c0000"/>
<rect x="103.8" y="141" width="26.3" height="2" fill="#940000"/>
<rect x="103.8" y="143" width="26.3" height="1" fill="#c20000"/>
<rect x="103.8" y="144" width="26.3" height="1" fill="#ab0000"/>
<rect x="103.8" y="145" width="26.3" height="4" fill="#b20000"/>
<rect x="103.8" y="149" width="26.3" height="1" fill="#ab0000"/>
<rect x="103.8" y="150" width="26.3" height="3" fill="#940000"/>
<rect x="103.8" y="153" width="26.3" height="2" fill="#a30000"/>
<rect x="103.8" y="155" width="26.3" height="2" fill="#940000"/>
<rect x="103.8" y="157" width="26.3" height="2" fill="#a30000"/>
<rect x="103.8" y="159" width="26.3" height="1" fill="#940000"/>
<rect x="103.8" y="160" width="26.3" height="1" fill="#9b0000"/>
<rect x="103.8" y="161" width="26.3" height="2" fill="#940000"/>
<rect x="103.8" y="163" width="26.3" height="2" fill="#9b0000"/>
<rect x="103.8" y="165" width="26.3" height="2" fill="#a30000"/>
<rect x="103.8" y="167" width="26.3" height="2" fill="#940000"/>
<rect x="103.8" y="169" width="26.3" height="2" fill="#9b0000"/>
<rect x="103.8" y="171" width="26.3" height="2" fill="#940000"/>
<rect x="103.8" y="173" width="26.3" height="2" fill="#0a0000"/>
<rect x="103.8" y="175" width="26.3" height="1" fill="#000904"/>
<rect x="103.8" y="176" width="26.3" height="1" fill="#007d38"/>
<rect x="103.8" y="177" width="26.3" height="1" fill="#007635"/>
<rect x="103.8" y="178" width="26.3" height="1" fill="#00662f"/>
<rect x="103.8" y="179" width="26.3" height="1" fill="#005f2c"/>
<rect x="103.8" y="180" width="26.3" height="1" fill="#002d16"/>
<rect x="103.8" y="181" width="26.3" height="1" fill="#00662f"/>
<rect x="103.8" y="182" width="26.3" height="1" fill="#003219"/>
<rect x="103.8" y="183" width="26.3" height="3" fill="#006e32"/>
<rect x="103.8" y="186" width="26.3" height="1" fill="#00371b"/>
<rect x="103.8" y="187" width="26.3" height="2" fill="#003d1e"/>
<rect x="103.8" y="189" width="26.3" height="1" fill="#00371b"/>
<rect x="103.8" y="190" width="26.3" height="1" fill="#001a0e"/>
<rect x="103.8" y="191" width="26.3" height="1" fill="#001209"/>
<rect x="103.8" y="192" width="26.3" height="1" fill="#004420"/>
<rect x="103.8" y="193" width="26.3" height="1" fill="#005829"/>
<rect x="103.8" y="194" width="26.3" height="1" fill="#004a23"/>
<rect x="103.8" y="195" width="26.3" height="1" fill="#380000"/>
<rect x="103.8" y="196" width="26.3" height="1" fill="#0a0000"/>
<rect x="103.8" y="197" width="26.3" height="2" fill="#380000"/>
<rect x="103.8" y="199" width="26.3" height="2" fill="#007d38"/>
<rect x="103.8" y="201" width="26.3" height="2" fill="#008c3e"/>
<rect x="103.8" y="203" width="26.3" height="4" fill="#009140"/>
<rect x="103.8" y="207" width="26.3" height="2" fill="#0ae169"/>
<rect x="103.8" y="209" width="26.3" height="1" fill="#08d864"/>
<rect x="103.8" y="210" width="26.3" height="1" fill="#0ae169"/>
<rect x="103.8" y="211" width="26.3" height="2" fill="#00a84b"/>
<rect x="103.8" y="213" width="26.3" height="4" fill="#009b46"/>
<rect x="103.8" y="217" width="26.3" height="3" fill="#00a048"/>
<rect x="103.8" y="220" width="26.3" height="2" fill="#006e32"/>
<rect x="103.8" y="222" width="26.3" height="3" fill="#00371b"/>
<rect x="103.8" y="225" width="26.3" height="2" fill="#002d16"/>
<rect x="103.8" y="227" width="26.3" height="1" fill="#0ae169"/>
<rect x="103.8" y="228" width="26.3" height="1" fill="#00843b"/>
<rect x="103.8" y="229" width="26.3" height="2" fill="#008c3e"/>
<rect x="103.8" y="231" width="26.3" height="2" fill="#009140"/>
<rect x="103.8" y="233" width="26.3" height="1" fill="#008c3e"/>
<rect x="103.8" y="234" width="26.3" height="1" fill="#0ae169"/>
<rect x="103.8" y="235" width="26.3" height="2" fill="#08d864"/>
<rect x="103.8" y="237" width="26.3" height="6" fill="#0ae169"/>
<rect x="103.8" y="243" width="26.3" height="1" fill="#00af4e"/>
<rect x="103.8" y="244" width="26.3" height="1" fill="#00b652"/>
<rect x="103.8" y="245" width="26.3" height="2" fill="#00af4e"/>
<rect x="103.8" y="247" width="26.3" height="2" fill="#02c75a"/>
<rect x="103.8" y="249" width="26.3" height="1" fill="#00be55"/>
<rect x="103.8" y="250" width="26.3" height="1" fill="#00b652"/>
<rect x="103.8" y="251" width="26.3" height="2" fill="#00662f"/>
<rect x="103.8" y="253" width="26.3" height="4" fill="#006e32"/>
<rect x="103.8" y="257" width="26.3" height="1" fill="#00662f"/>
<rect x="103.8" y="258" width="26.3" height="1" fill="#006e32"/>
<rect x="103.8" y="259" width="26.3" height="2" fill="#00662f"/>
<rect x="103.8" y="261" width="26.3" height="2" fill="#006e32"/>
<rect x="103.8" y="263" width="26.3" height="2" fill="#00662f"/>
<rect x="103.8" y="265" width="26.3" height="2" fill="#007d38"/>
<rect x="103.8" y="267" width="26.3" height="1" fill="#005f2c"/>
<rect x="103.8" y="268" width="26.3" height="1" fill="#007635"/>
<rect x="103.8" y="269" width="26.3" height="1" fill="#006e32"/>
<rect x="103.8" y="270" width="26.3" height="1" fill="#00662f"/>
<rect x="103.8" y="271" width="26.3" height="1" fill="#009b46"/>
<rect x="103.8" y="272" width="26.3" height="1" fill="#00a84b"/>
<rect x="103.8" y="273" width="26.3" height="1" fill="#009b46"/>
<rect x="103.8" y="274" width="26.3" height="1" fill="#00a84b"/>
<rect x="103.8" y="275" width="26.3" height="2" fill="#00a048"/>
<rect x="103.8" y="277" width="26.3" height="2" fill="#00a84b"/>
<rect x="103.8" y="279" width="26.3" height="4" fill="#009b46"/>
<rect x="103.8" y="283" width="26.3" height="3" fill="#00a048"/>
<rect x="103.8" y="286" width="26.3" height="1" fill="#009140"/>
<rect x="103.8" y="287" width="26.3" height="4" fill="#008c3e"/>
<rect x="103.8" y="291" width="26.3" height="4" fill="#009140"/>
<rect x="103.8" y="295" width="26.3" height="2" fill="#00be55"/>
<rect x="103.8" y="297" width="26.3" height="2" fill="#02c75a"/>
<rect x="103.8" y="299" width="26.3" height="4" fill="#001a0e"/>
<rect x="103.8" y="303" width="26.3" height="2" fill="#003d1e"/>
<rect x="103.8" y="305" width="26.3" height="1" fill="#003219"/>
<rect x="103.8" y="306" width="26.3" height="1" fill="#004420"/>
<rect x="103.8" y="307" width="26.3" height="4" fill="#005829"/>
<rect x="103.8" y="311" width="26.3" height="2" fill="#004420"/>
<rect x="103.8" y="313" width="26.3" height="1" fill="#005829"/>
<rect x="103.8" y="314" width="26.3" height="1" fill="#002814"/>
<rect x="103.8" y="315" width="26.3" height="2" fill="#003219"/>
<rect x="103.8" y="317" width="26.3" height="2" fill="#005026"/>
<rect x="103.8" y="319" width="26.3" height="2" fill="#004a23"/>
<rect x="103.8" y="321" width="26.3" height="2" fill="#00371b"/>
<rect x="103.8" y="323" width="26.3" height="1" fill="#200000"/>
<rect x="103.8" y="324" width="26.3" height="1" fill="#000000"/>
<rect x="129.8" y="23" width="26.3" height="2" fill="#007635"/>
<rect x="129.8" y="25" width="26.3" height="1" fill="#006e32"/>
<rect x="129.8" y="26" width="26.3" height="1" fill="#00662f"/>
<rect x="129.8" y="27" width="26.3" height="2" fill="#00be55"/>
<rect x="129.8" y="29" width="26.3" height="2" fill="#02c75a"/>
<rect x="129.8" y="31" width="26.3" height="1" fill="#000000"/>
<rect x="129.8" y="32" width="26.3" height="1" fill="#00af4e"/>
<rect x="129.8" y="33" width="26.3" height="2" fill="#00a048"/>
<rect x="129.8" y="35" width="26.3" height="1" fill="#4e0000"/>
<rect x="129.8" y="36" width="26.3" height="1" fill="#0a0000"/>
<rect x="129.8" y="37" width="26.3" height="1" fill="#000000"/>
<rect x="129.8" y="38" width="26.3" height="1" fill="#740000"/>
<rect x="129.8" y="39" width="26.3" height="2" fill="#5c0000"/>
<rect x="129.8" y="41" width="26.3" height="1" fill="#740000"/>
<rect x="129.8" y="42" width="26.3" height="1" fill="#7c0000"/>
<rect x="129.8" y="43" width="26.3" height="1" fill="#740000"/>
<rect x="129.8" y="44" width="26.3" height="1" fill="#7c0000"/>
<rect x="129.8" y="45" width="26.3" height="1" fill="#550000"/>
<rect x="129.8" y="46" width="26.3" height="1" fill="#310000"/>
<rect x="129.8" y="47" width="26.3" height="1" fill="#003d1e"/>
<rect x="129.8" y="48" width="26.3" height="1" fill="#000000"/>
<rect x="129.8" y="49" width="26.3" height="1" fill="#003d1e"/>
<rect x="129.8" y="50" width="26.3" height="1" fill="#005829"/>
<rect x="129.8" y="51" width="26.3" height="1" fill="#007d38"/>
<rect x="129.8" y="52" width="26.3" height="1" fill="#005f2c"/>
<rect x="129.8" y="53" width="26.3" height="1" fill="#00662f"/>
<rect x="129.8" y="54" width="26.3" height="1" fill="#005026"/>
<rect x="129.8" y="55" width="26.3" height="1" fill="#006e32"/>
<rect x="129.8" y="56" width="26.3" height="3" fill="#008c3e"/>
<rect x="129.8" y="59" width="26.3" height="1" fill="#003219"/>
<rect x="129.8" y="60" width="26.3" height="3" fill="#002d16"/>
<rect x="129.8" y="63" width="26.3" height="1" fill="#001209"/>
<rect x="129.8" y="64" width="26.3" height="1" fill="#002d16"/>
<rect x="129.8" y="65" width="26.3" height="1" fill="#001209"/>
<rect x="129.8" y="66" width="26.3" height="1" fill="#002814"/>
<rect x="129.8" y="67" width="26.3" height="1" fill="#002312"/>
<rect x="129.8" y="68" width="26.3" height="1" fill="#002814"/>
<rect x="129.8" y="69" width="26.3" height="2" fill="#0a0000"/>
<rect x="129.8" y="71" width="26.3" height="1" fill="#000000"/>
<rect x="129.8" y="72" width="26.3" height="1" fill="#3f0000"/>
<rect x="129.8" y="73" width="26.3" height="2" fill="#380000"/>
<rect x="129.8" y="75" width="26.3" height="3" fill="#310000"/>
<rect x="129.8" y="78" width="26.3" height="1" fill="#380000"/>
<rect x="129.8" y="79" width="26.3" height="1" fill="#310000"/>
<rect x="129.8" y="80" width="26.3" height="2" fill="#002814"/>
<rect x="129.8" y="82" width="26.3" height="1" fill="#001209"/>
<rect x="129.8" y="83" width="26.3" height="4" fill="#640000"/>
<rect x="129.8" y="87" width="26.3" height="2" fill="#5c0000"/>
<rect x="129.8" y="89" width="26.3" height="2" fill="#550000"/>
<rect x="129.8" y="91" width="26.3" height="2" fill="#460000"/>
<rect x="129.8" y="93" width="26.3" height="1" fill="#5c0000"/>
<rect x="129.8" y="94" width="26.3" height="1" fill="#4e0000"/>
<rect x="129.8" y="95" width="26.3" height="2" fill="#550000"/>
<rect x="129.8" y="97" width="26.3" height="2" fill="#5c0000"/>
<rect x="129.8" y="99" width="26.3" height="1" fill="#000904"/>
<rect x="129.8" y="100" width="26.3" height="1" fill="#150000"/>
<rect x="129.8" y="101" width="26.3" height="1" fill="#000000"/>
<rect x="129.8" y="102" width="26.3" height="1" fill="#200000"/>
<rect x="129.8" y="103" width="26.3" height="1" fill="#000000"/>
<rect x="129.8" y="104" width="26.3" height="1" fill="#310000"/>
<rect x="129.8" y="105" width="26.3" height="1" fill="#200000"/>
<rect x="129.8" y="106" width="26.3" height="1" fill="#380000"/>
<rect x="129.8" y="107" width="26.3" height="1" fill="#2a0000"/>
<rect x="129.8" y="108" width="26.3" height="1" fill="#3f0000"/>
<rect x="129.8" y="109" width="26.3" height="2" fill="#380000"/>
<rect x="129.8" y="111" width="26.3" height="1" fill="#2a0000"/>
<rect x="129.8" y="112" width="26.3" height="1" fill="#460000"/>
<rect x="129.8" y="113" width="26.3" height="1" fill="#150000"/>
<rect x="129.8" y="114" width="26.3" height="1" fill="#3f0000"/>
<rect x="129.8" y="115" width="26.3" height="2" fill="#310000"/>
<rect x="129.8" y="117" width="26.3" height="2" fill="#380000"/>
<rect x="129.8" y="119" width="26.3" height="1" fill="#3f0000"/>
<rect x="129.8" y="120" width="26.3" height="1" fill="#000000"/>
<rect x="129.8" y="121" width="26.3" height="2" fill="#2a0000"/>
<rect x="129.8" y="123" width="26.3" height="1" fill="#0a0000"/>
<rect x="129.8" y="124" width="26.3" height="1" fill="#150000"/>
<rect x="129.8" y="125" width="26.3" height="3" fill="#0a0000"/>
<rect x="129.8" y="128" width="26.3" height="1" fill="#550000"/>
<rect x="129.8" y="129" width="26.3" height="2" fill="#5c0000"/>
<rect x="129.8" y="131" width="26.3" height="1" fill="#3f0000"/>
<rect x="129.8" y="132" width="26.3" height="1" fill="#5c0000"/>
<rect x="129.8" y="133" width="26.3" height="4" fill="#460000"/>
<rect x="129.8" y="137" width="26.3" height="1" fill="#640000"/>
<rect x="129.8" y="138" width="26.3" height="1" fill="#550000"/>
<rect x="129.8" y="139" width="26.3" height="2" fill="#4e0000"/>
<rect x="129.8" y="141" width="26.3" height="4" fill="#550000"/>
<rect x="129.8" y="145" width="26.3" height="4" fill="#460000"/>
<rect x="129.8" y="149" width="26.3" height="1" fill="#550000"/>
<rect x="129.8" y="150" width="26.3" height="1" fill="#4e0000"/>
<rect x="129.8" y="151" width="26.3" height="1" fill="#460000"/>
<rect x="129.8" y="152" width="26.3" height="1" fill="#310000"/>
<rect x="129.8" y="153" width="26.3" height="2" fill="#380000"/>
<rect x="129.8" y="155" width="26.3" height="2" fill="#3f0000"/>
<rect x="129.8" y="157" width="26.3" height="4" fill="#380000"/>
<rect x="129.8" y="161" width="26.3" height="1" fill="#3f0000"/>
<rect x="129.8" y="162" width="26.3" height="1" fill="#380000"/>
<rect x="129.8" y="163" width="26.3" height="1" fill="#4e0000"/>
<rect x="129.8" y="164" width="26.3" height="1" fill="#200000"/>
<rect x="129.8" y="165" width="26.3" height="2" fill="#2a0000"/>
<rect x="129.8" y="167" width="26.3" height="2" fill="#150000"/>
<rect x="129.8" y="169" width="26.3" height="2" fill="#310000"/>
<rect x="129.8" y="171" width="26.3" height="2" fill="#3f0000"/>
<rect x="129.8" y="173" width="26.3" height="1" fill="#00843b"/>
<rect x="129.8" y="174" width="26.3" height="1" fill="#007d38"/>
<rect x="129.8" y="175" width="26.3" height="1" fill="#00843b"/>
<rect x="129.8" y="176" width="26.3" height="1" fill="#000000"/>
<rect x="129.8" y="177" width="26.3" height="1" fill="#001209"/>
<rect x="129.8" y="178" width="26.3" height="1" fill="#0a0000"/>
<rect x="129.8" y="179" width="26.3" height="1" fill="#d80000"/>
<rect x="129.8" y="180" width="26.3" height="1" fill="#d10000"/>
<rect x="129.8" y="181" width="26.3" height="2" fill="#d80000"/>
<rect x="129.8" y="183" width="26.3" height="2" fill="#d10000"/>
<rect x="129.8" y="185" width="26.3" height="3" fill="#a30000"/>
<rect x="129.8" y="188" width="26.3" height="1" fill="#640000"/>
<rect x="129.8" y="189" width="26.3" height="1" fill="#740000"/>
<rect x="129.8" y="190" width="26.3" height="1" fill="#550000"/>
<rect x="129.8" y="191" width="26.3" height="1" fill="#000000"/>
<rect x="129.8" y="192" width="26.3" height="1" fill="#000904"/>
<rect x="129.8" y="193" width="26.3" height="1" fill="#000000"/>
<rect x="129.8" y="194" width="26.3" height="3" fill="#310000"/>
<rect x="129.8" y="197" width="26.3" height="2" fill="#200000"/>
<rect x="129.8" y="199" width="26.3" height="1" fill="#8c0000"/>
<rect x="129.8" y="200" width="26.3" height="1" fill="#840000"/>
<rect x="129.8" y="201" width="26.3" height="2" fill="#6c0000"/>
<rect x="129.8" y="203" width="26.3" height="1" fill="#7c0000"/>
<rect x="129.8" y="204" width="26.3" height="1" fill="#3f0000"/>
<rect x="129.8" y="205" width="26.3" height="2" fill="#4e0000"/>
<rect x="129.8" y="207" width="26.3" height="2" fill="#0a0000"/>
<rect x="129.8" y="209" width="26.3" height="1" fill="#000000"/>
<rect x="129.8" y="210" width="26.3" height="1" fill="#004420"/>
<rect x="129.8" y="211" width="26.3" height="2" fill="#005026"/>
<rect x="129.8" y="213" width="26.3" height="2" fill="#002312"/>
<rect x="129.8" y="215" width="26.3" height="2" fill="#002814"/>
<rect x="129.8" y="217" width="26.3" height="2" fill="#8c0000"/>
<rect x="129.8" y="219" width="26.3" height="2" fill="#7c0000"/>
<rect x="129.8" y="221" width="26.3" height="2" fill="#940000"/>
<rect x="129.8" y="223" width="26.3" height="2" fill="#3f0000"/>
<rect x="129.8" y="225" width="26.3" height="2" fill="#380000"/>
<rect x="129.8" y="227" width="26.3" height="1" fill="#460000"/>
<rect x="129.8" y="228" width="26.3" height="1" fill="#2a0000"/>
<rect x="129.8" y="229" width="26.3" height="1" fill="#310000"/>
<rect x="129.8" y="230" width="26.3" height="1" fill="#2a0000"/>
<rect x="129.8" y="231" width="26.3" height="1" fill="#380000"/>
<rect x="129.8" y="232" width="26.3" height="1" fill="#000000"/>
<rect x="129.8" y="233" width="26.3" height="1" fill="#4e0000"/>
<rect x="129.8" y="234" width="26.3" height="1" fill="#460000"/>
<rect x="129.8" y="235" width="26.3" height="2" fill="#4e0000"/>
<rect x="129.8" y="237" width="26.3" height="2" fill="#200000"/>
<rect x="129.8" y="239" width="26.3" height="1" fill="#310000"/>
<rect x="129.8" y="240" width="26.3" height="2" fill="#000000"/>
<rect x="129.8" y="242" width="26.3" height="1" fill="#000904"/>
<rect x="129.8" y="243" width="26.3" height="1" fill="#460000"/>
<rect x="129.8" y="244" width="26.3" height="1" fill="#3f0000"/>
<rect x="129.8" y="245" width="26.3" height="1" fill="#310000"/>
<rect x="129.8" y="246" width="26.3" height="1" fill="#000000"/>
<rect x="129.8" y="247" width="26.3" height="1" fill="#380000"/>
<rect x="129.8" y="248" width="26.3" height="1" fill="#0a0000"/>
<rect x="129.8" y="249" width="26.3" height="1" fill="#310000"/>
<rect x="129.8" y="250" width="26.3" height="1" fill="#003d1e"/>
<rect x="129.8" y="251" width="26.3" height="2" fill="#003219"/>
<rect x="129.8" y="253" width="26.3" height="1" fill="#003d1e"/>
<rect x="129.8" y="254" width="26.3" height="1" fill="#005829"/>
<rect x="129.8" y="255" width="26.3" height="2" fill="#005026"/>
<rect x="129.8" y="257" width="26.3" height="2" fill="#00662f"/>
<rect x="129.8" y="259" width="26.3" height="2" fill="#005f2c"/>
<rect x="129.8" y="261" width="26.3" height="4" fill="#005026"/>
<rect x="129.8" y="265" width="26.3" height="2" fill="#004420"/>
<rect x="129.8" y="267" width="26.3" height="2" fill="#005829"/>
<rect x="129.8" y="269" width="26.3" height="2" fill="#003d1e"/>
<rect x="129.8" y="271" width="26.3" height="1" fill="#002d16"/>
<rect x="129.8" y="272" width="26.3" height="1" fill="#150000"/>
<rect x="129.8" y="273" width="26.3" height="1" fill="#000000"/>
<rect x="129.8" y="274" width="26.3" height="1" fill="#380000"/>
<rect x="129.8" y="275" width="26.3" height="1" fill="#000000"/>
<rect x="129.8" y="276" width="26.3" height="1" fill="#002814"/>
<rect x="129.8" y="277" width="26.3" height="1" fill="#000000"/>
<rect x="129.8" y="278" width="26.3" height="1" fill="#002312"/>
<rect x="129.8" y="279" width="26.3" height="1" fill="#000000"/>
<rect x="129.8" y="280" width="26.3" height="1" fill="#001a0e"/>
<rect x="129.8" y="281" width="26.3" height="2" fill="#004420"/>
<rect x="129.8" y="283" width="26.3" height="2" fill="#002d16"/>
<rect x="129.8" y="285" width="26.3" height="1" fill="#00371b"/>
<rect x="129.8" y="286" width="26.3" height="1" fill="#003219"/>
<rect x="129.8" y="287" width="26.3" height="2" fill="#00371b"/>
<rect x="129.8" y="289" width="26.3" height="2" fill="#004420"/>
<rect x="129.8" y="291" width="26.3" height="2" fill="#00371b"/>
<rect x="129.8" y="293" width="26.3" height="2" fill="#003219"/>
<rect x="129.8" y="295" width="26.3" height="2" fill="#00371b"/>
<rect x="129.8" y="297" width="26.3" height="2" fill="#004420"/>
<rect x="129.8" y="299" width="26.3" height="4" fill="#002312"/>
<rect x="129.8" y="303" width="26.3" height="1" fill="#001a0e"/>
<rect x="129.8" y="304" width="26.3" height="1" fill="#2a0000"/>
<rect x="129.8" y="305" width="26.3" height="1" fill="#200000"/>
<rect x="129.8" y="306" width="26.3" height="3" fill="#002814"/>
<rect x="129.8" y="309" width="26.3" height="1" fill="#003219"/>
<rect x="129.8" y="310" width="26.3" height="1" fill="#000904"/>
<rect x="129.8" y="311" width="26.3" height="6" fill="#000000"/>
<rect x="129.8" y="317" width="26.3" height="1" fill="#0a0000"/>
<rect x="129.8" y="318" width="26.3" height="1" fill="#310000"/>
<rect x="129.8" y="319" width="26.3" height="3" fill="#200000"/>
<rect x="129.8" y="322" width="26.3" height="1" fill="#002814"/>
<rect x="129.8" y="323" width="26.3" height="2" fill="#002312"/>
<rect x="155.8" y="23" width="26.3" height="2" fill="#006e32"/>
<rect x="155.8" y="25" width="26.3" height="1" fill="#00662f"/>
<rect x="155.8" y="26" width="26.3" height="1" fill="#007635"/>
<rect x="155.8" y="27" width="26.3" height="1" fill="#460000"/>
<rect x="155.8" y="28" width="26.3" height="3" fill="#008c3e"/>
<rect x="155.8" y="31" width="26.3" height="1" fill="#009140"/>
<rect x="155.8" y="32" width="26.3" height="2" fill="#007635"/>
<rect x="155.8" y="34" width="26.3" height="1" fill="#006e32"/>
<rect x="155.8" y="35" width="26.3" height="2" fill="#007635"/>
<rect x="155.8" y="37" width="26.3" height="5" fill="#006e32"/>
<rect x="155.8" y="42" width="26.3" height="1" fill="#00a048"/>
<rect x="155.8" y="43" width="26.3" height="1" fill="#00a84b"/>
<rect x="155.8" y="44" width="26.3" height="1" fill="#000904"/>
<rect x="155.8" y="45" width="26.3" height="1" fill="#000000"/>
<rect x="155.8" y="46" width="26.3" height="1" fill="#2a0000"/>
<rect x="155.8" y="47" width="26.3" height="1" fill="#000000"/>
<rect x="155.8" y="48" width="26.3" height="1" fill="#5c0000"/>
<rect x="155.8" y="49" width="26.3" height="1" fill="#640000"/>
<rect x="155.8" y="50" width="26.3" height="1" fill="#6c0000"/>
<rect x="155.8" y="51" width="26.3" height="3" fill="#550000"/>
<rect x="155.8" y="54" width="26.3" height="2" fill="#6c0000"/>
<rect x="155.8" y="56" width="26.3" height="1" fill="#840000"/>
<rect x="155.8" y="57" width="26.3" height="2" fill="#8c0000"/>
<rect x="155.8" y="59" width="26.3" height="4" fill="#840000"/>
<rect x="155.8" y="63" width="26.3" height="1" fill="#8c0000"/>
<rect x="155.8" y="64" width="26.3" height="1" fill="#940000"/>
<rect x="155.8" y="65" width="26.3" height="2" fill="#840000"/>
<rect x="155.8" y="67" width="26.3" height="2" fill="#7c0000"/>
<rect x="155.8" y="69" width="26.3" height="2" fill="#000000"/>
<rect x="155.8" y="71" width="26.3" height="1" fill="#0a0000"/>
<rect x="155.8" y="72" width="26.3" height="1" fill="#002d16"/>
<rect x="155.8" y="73" width="26.3" height="2" fill="#003219"/>
<rect x="155.8" y="75" width="26.3" height="1" fill="#000000"/>
<rect x="155.8" y="76" width="26.3" height="1" fill="#200000"/>
<rect x="155.8" y="77" width="26.3" height="1" fill="#000000"/>
<rect x="155.8" y="78" width="26.3" height="2" fill="#002312"/>
<rect x="155.8" y="80" width="26.3" height="3" fill="#2a0000"/>
<rect x="155.8" y="83" width="26.3" height="2" fill="#002814"/>
<rect x="155.8" y="85" width="26.3" height="1" fill="#001a0e"/>
<rect x="155.8" y="86" width="26.3" height="3" fill="#000000"/>
<rect x="155.8" y="89" width="26.3" height="4" fill="#0a0000"/>
<rect x="155.8" y="93" width="26.3" height="1" fill="#000000"/>
<rect x="155.8" y="94" width="26.3" height="2" fill="#003d1e"/>
<rect x="155.8" y="96" width="26.3" height="1" fill="#002814"/>
<rect x="155.8" y="97" width="26.3" height="1" fill="#002312"/>
<rect x="155.8" y="98" width="26.3" height="5" fill="#550000"/>
<rect x="155.8" y="103" width="26.3" height="2" fill="#460000"/>
<rect x="155.8" y="105" width="26.3" height="2" fill="#4e0000"/>
<rect x="155.8" y="107" width="26.3" height="2" fill="#550000"/>
<rect x="155.8" y="109" width="26.3" height="1" fill="#310000"/>
<rect x="155.8" y="110" width="26.3" height="1" fill="#4e0000"/>
<rect x="155.8" y="111" width="26.3" height="1" fill="#380000"/>
<rect x="155.8" y="112" width="26.3" height="1" fill="#4e0000"/>
<rect x="155.8" y="113" width="26.3" height="1" fill="#3f0000"/>
<rect x="155.8" y="114" width="26.3" height="2" fill="#550000"/>
<rect x="155.8" y="116" width="26.3" height="1" fill="#6c0000"/>
<rect x="155.8" y="117" width="26.3" height="1" fill="#310000"/>
<rect x="155.8" y="118" width="26.3" height="2" fill="#460000"/>
<rect x="155.8" y="120" width="26.3" height="1" fill="#5c0000"/>
<rect x="155.8" y="121" width="26.3" height="2" fill="#550000"/>
<rect x="155.8" y="123" width="26.3" height="3" fill="#460000"/>
<rect x="155.8" y="126" width="26.3" height="1" fill="#3f0000"/>
<rect x="155.8" y="127" width="26.3" height="1" fill="#310000"/>
<rect x="155.8" y="128" width="26.3" height="1" fill="#200000"/>
<rect x="155.8" y="129" width="26.3" height="1" fill="#380000"/>
<rect x="155.8" y="130" width="26.3" height="1" fill="#2a0000"/>
<rect x="155.8" y="131" width="26.3" height="1" fill="#001209"/>
<rect x="155.8" y="132" width="26.3" height="1" fill="#0a0000"/>
<rect x="155.8" y="133" width="26.3" height="1" fill="#002312"/>
<rect x="155.8" y="134" width="26.3" height="1" fill="#000000"/>
<rect x="155.8" y="135" width="26.3" height="2" fill="#2a0000"/>
<rect x="155.8" y="137" width="26.3" height="1" fill="#310000"/>
<rect x="155.8" y="138" width="26.3" height="1" fill="#380000"/>
<rect x="155.8" y="139" width="26.3" height="1" fill="#200000"/>
<rect x="155.8" y="140" width="26.3" height="1" fill="#3f0000"/>
<rect x="155.8" y="141" width="26.3" height="1" fill="#310000"/>
<rect x="155.8" y="142" width="26.3" height="1" fill="#550000"/>
<rect x="155.8" y="143" width="26.3" height="1" fill="#2a0000"/>
<rect x="155.8" y="144" width="26.3" height="1" fill="#460000"/>
<rect x="155.8" y="145" width="26.3" height="1" fill="#380000"/>
<rect x="155.8" y="146" width="26.3" height="1" fill="#550000"/>
<rect x="155.8" y="147" width="26.3" height="1" fill="#310000"/>
<rect x="155.8" y="148" width="26.3" height="1" fill="#4e0000"/>
<rect x="155.8" y="149" width="26.3" height="2" fill="#200000"/>
<rect x="155.8" y="151" width="26.3" height="1" fill="#550000"/>
<rect x="155.8" y="152" width="26.3" height="1" fill="#380000"/>
<rect x="155.8" y="153" width="26.3" height="2" fill="#3f0000"/>
<rect x="155.8" y="155" width="26.3" height="2" fill="#4e0000"/>
<rect x="155.8" y="157" width="26.3" height="2" fill="#740000"/>
<rect x="155.8" y="159" width="26.3" height="2" fill="#640000"/>
<rect x="155.8" y="161" width="26.3" height="1" fill="#550000"/>
<rect x="155.8" y="162" width="26.3" height="1" fill="#6c0000"/>
<rect x="155.8" y="163" width="26.3" height="2" fill="#640000"/>
<rect x="155.8" y="165" width="26.3" height="1" fill="#6c0000"/>
<rect x="155.8" y="166" width="26.3" height="3" fill="#5c0000"/>
<rect x="155.8" y="169" width="26.3" height="1" fill="#550000"/>
<rect x="155.8" y="170" width="26.3" height="1" fill="#6c0000"/>
<rect x="155.8" y="171" width="26.3" height="2" fill="#640000"/>
<rect x="155.8" y="173" width="26.3" height="3" fill="#5c0000"/>
<rect x="155.8" y="176" width="26.3" height="1" fill="#7c0000"/>
<rect x="155.8" y="177" width="26.3" height="2" fill="#840000"/>
<rect x="155.8" y="179" width="26.3" height="2" fill="#0a0000"/>
<rect x="155.8" y="181" width="26.3" height="2" fill="#005829"/>
<rect x="155.8" y="183" width="26.3" height="1" fill="#004a23"/>
<rect x="155.8" y="184" width="26.3" height="5" fill="#ca0000"/>
<rect x="155.8" y="189" width="26.3" height="2" fill="#5c0000"/>
<rect x="155.8" y="191" width="26.3" height="1" fill="#640000"/>
<rect x="155.8" y="192" width="26.3" height="1" fill="#2a0000"/>
<rect x="155.8" y="193" width="26.3" height="1" fill="#000000"/>
<rect x="155.8" y="194" width="26.3" height="1" fill="#2a0000"/>
<rect x="155.8" y="195" width="26.3" height="1" fill="#000904"/>
<rect x="155.8" y="196" width="26.3" height="1" fill="#3f0000"/>
<rect x="155.8" y="197" width="26.3" height="3" fill="#550000"/>
<rect x="155.8" y="200" width="26.3" height="1" fill="#000000"/>
<rect x="155.8" y="201" width="26.3" height="1" fill="#000904"/>
<rect x="155.8" y="202" width="26.3" height="1" fill="#005829"/>
<rect x="155.8" y="203" width="26.3" height="2" fill="#005026"/>
<rect x="155.8" y="205" width="26.3" height="2" fill="#005829"/>
<rect x="155.8" y="207" width="26.3" height="1" fill="#004a23"/>
<rect x="155.8" y="208" width="26.3" height="1" fill="#003219"/>
<rect x="155.8" y="209" width="26.3" height="1" fill="#003d1e"/>
<rect x="155.8" y="210" width="26.3" height="3" fill="#5c0000"/>
<rect x="155.8" y="213" width="26.3" height="1" fill="#550000"/>
<rect x="155.8" y="214" width="26.3" height="1" fill="#380000"/>
<rect x="155.8" y="215" width="26.3" height="2" fill="#3f0000"/>
<rect x="155.8" y="217" width="26.3" height="1" fill="#460000"/>
<rect x="155.8" y="218" width="26.3" height="1" fill="#006e32"/>
<rect x="155.8" y="219" width="26.3" height="1" fill="#005829"/>
<rect x="155.8" y="220" width="26.3" height="1" fill="#006e32"/>
<rect x="155.8" y="221" width="26.3" height="1" fill="#005026"/>
<rect x="155.8" y="222" width="26.3" height="1" fill="#007635"/>
<rect x="155.8" y="223" width="26.3" height="1" fill="#004a23"/>
<rect x="155.8" y="224" width="26.3" height="1" fill="#00662f"/>
<rect x="155.8" y="225" width="26.3" height="1" fill="#005026"/>
<rect x="155.8" y="226" width="26.3" height="1" fill="#006e32"/>
<rect x="155.8" y="227" width="26.3" height="1" fill="#005026"/>
<rect x="155.8" y="228" width="26.3" height="1" fill="#002d16"/>
<rect x="155.8" y="229" width="26.3" height="2" fill="#003219"/>
<rect x="155.8" y="231" width="26.3" height="1" fill="#2a0000"/>
<rect x="155.8" y="232" width="26.3" height="1" fill="#002312"/>
<rect x="155.8" y="233" width="26.3" height="1" fill="#200000"/>
<rect x="155.8" y="234" width="26.3" height="1" fill="#002814"/>
<rect x="155.8" y="235" width="26.3" height="1" fill="#2a0000"/>
<rect x="155.8" y="236" width="26.3" height="1" fill="#002312"/>
<rect x="155.8" y="237" width="26.3" height="2" fill="#310000"/>
<rect x="155.8" y="239" width="26.3" height="1" fill="#380000"/>
<rect x="155.8" y="240" width="26.3" height="1" fill="#460000"/>
<rect x="155.8" y="241" width="26.3" height="2" fill="#2a0000"/>
<rect x="155.8" y="243" width="26.3" height="1" fill="#3f0000"/>
<rect x="155.8" y="244" width="26.3" height="1" fill="#002312"/>
<rect x="155.8" y="245" width="26.3" height="1" fill="#2a0000"/>
<rect x="155.8" y="246" width="26.3" height="1" fill="#002d16"/>
<rect x="155.8" y="247" width="26.3" height="1" fill="#2a0000"/>
<rect x="155.8" y="248" width="26.3" height="1" fill="#002312"/>
<rect x="155.8" y="249" width="26.3" height="1" fill="#2a0000"/>
<rect x="155.8" y="250" width="26.3" height="3" fill="#460000"/>
<rect x="155.8" y="253" width="26.3" height="3" fill="#003219"/>
<rect x="155.8" y="256" width="26.3" height="1" fill="#000904"/>
<rect x="155.8" y="257" width="26.3" height="3" fill="#2a0000"/>
<rect x="155.8" y="260" width="26.3" height="1" fill="#002312"/>
<rect x="155.8" y="261" width="26.3" height="2" fill="#001a0e"/>
<rect x="155.8" y="263" width="26.3" height="1" fill="#002312"/>
<rect x="155.8" y="264" width="26.3" height="1" fill="#2a0000"/>
<rect x="155.8" y="265" width="26.3" height="1" fill="#000000"/>
<rect x="155.8" y="266" width="26.3" height="1" fill="#2a0000"/>
<rect x="155.8" y="267" width="26.3" height="1" fill="#000000"/>
<rect x="155.8" y="268" width="26.3" height="1" fill="#002814"/>
<rect x="155.8" y="269" width="26.3" height="2" fill="#002d16"/>
<rect x="155.8" y="271" width="26.3" height="2" fill="#005026"/>
<rect x="155.8" y="273" width="26.3" height="2" fill="#004a23"/>
<rect x="155.8" y="275" width="26.3" height="2" fill="#005026"/>
<rect x="155.8" y="277" width="26.3" height="1" fill="#005829"/>
<rect x="155.8" y="278" width="26.3" height="1" fill="#004420"/>
<rect x="155.8" y="279" width="26.3" height="3" fill="#00371b"/>
<rect x="155.8" y="282" width="26.3" height="1" fill="#002d16"/>
<rect x="155.8" y="283" width="26.3" height="2" fill="#001209"/>
<rect x="155.8" y="285" width="26.3" height="1" fill="#001a0e"/>
<rect x="155.8" y="286" width="26.3" height="1" fill="#000904"/>
<rect x="155.8" y="287" width="26.3" height="2" fill="#000000"/>
<rect x="155.8" y="289" width="26.3" height="4" fill="#003d1e"/>
<rect x="155.8" y="293" width="26.3" height="2" fill="#002d16"/>
<rect x="155.8" y="295" width="26.3" height="1" fill="#0a0000"/>
<rect x="155.8" y="296" width="26.3" height="1" fill="#2a0000"/>
<rect x="155.8" y="297" width="26.3" height="1" fill="#000000"/>
<rect x="155.8" y="298" width="26.3" height="1" fill="#2a0000"/>
<rect x="155.8" y="299" width="26.3" height="2" fill="#460000"/>
<rect x="155.8" y="301" width="26.3" height="1" fill="#000904"/>
<rect x="155.8" y="302" width="26.3" height="1" fill="#2a0000"/>
<rect x="155.8" y="303" width="26.3" height="2" fill="#004a23"/>
<rect x="155.8" y="305" width="26.3" height="2" fill="#004420"/>
<rect x="155.8" y="307" width="26.3" height="2" fill="#005026"/>
<rect x="155.8" y="309" width="26.3" height="2" fill="#004a23"/>
<rect x="155.8" y="311" width="26.3" height="2" fill="#00662f"/>
<rect x="155.8" y="313" width="26.3" height="1" fill="#004420"/>
<rect x="155.8" y="314" width="26.3" height="1" fill="#002d16"/>
<rect x="155.8" y="315" width="26.3" height="1" fill="#00371b"/>
<rect x="155.8" y="316" width="26.3" height="1" fill="#003219"/>
<rect x="155.8" y="317" width="26.3" height="1" fill="#004420"/>
<rect x="155.8" y="318" width="26.3" height="1" fill="#005f2c"/>
<rect x="155.8" y="319" width="26.3" height="1" fill="#005829"/>
<rect x="155.8" y="320" width="26.3" height="5" fill="#005026"/>
<rect x="181.8" y="23" width="26.3" height="2" fill="#001a0e"/>
<rect x="181.8" y="25" width="26.3" height="2" fill="#460000"/>
<rect x="181.8" y="27" width="26.3" height="1" fill="#550000"/>
<rect x="181.8" y="28" width="26.3" height="1" fill="#001209"/>
<rect x="181.8" y="29" width="26.3" height="1" fill="#002312"/>
<rect x="181.8" y="30" width="26.3" height="1" fill="#000000"/>
<rect x="181.8" y="31" width="26.3" height="1" fill="#000904"/>
<rect x="181.8" y="32" width="26.3" height="1" fill="#005829"/>
<rect x="181.8" y="33" width="26.3" height="2" fill="#005026"/>
<rect x="181.8" y="35" width="26.3" height="1" fill="#005f2c"/>
<rect x="181.8" y="36" width="26.3" height="1" fill="#005026"/>
<rect x="181.8" y="37" width="26.3" height="1" fill="#005829"/>
<rect x="181.8" y="38" width="26.3" height="1" fill="#004a23"/>
<rect x="181.8" y="39" width="26.3" height="2" fill="#00662f"/>
<rect x="181.8" y="41" width="26.3" height="2" fill="#007d38"/>
<rect x="181.8" y="43" width="26.3" height="1" fill="#007635"/>
<rect x="181.8" y="44" width="26.3" height="1" fill="#009140"/>
<rect x="181.8" y="45" width="26.3" height="2" fill="#008c3e"/>
<rect x="181.8" y="47" width="26.3" height="1" fill="#00843b"/>
<rect x="181.8" y="48" width="26.3" height="1" fill="#0a0000"/>
<rect x="181.8" y="49" width="26.3" height="2" fill="#007d38"/>
<rect x="181.8" y="51" width="26.3" height="2" fill="#008c3e"/>
<rect x="181.8" y="53" width="26.3" height="1" fill="#009140"/>
<rect x="181.8" y="54" width="26.3" height="1" fill="#00a84b"/>
<rect x="181.8" y="55" width="26.3" height="4" fill="#009b46"/>
<rect x="181.8" y="59" width="26.3" height="1" fill="#00a84b"/>
<rect x="181.8" y="60" width="26.3" height="1" fill="#02c75a"/>
<rect x="181.8" y="61" width="26.3" height="1" fill="#009b46"/>
<rect x="181.8" y="62" width="26.3" height="1" fill="#00be55"/>
<rect x="181.8" y="63" width="26.3" height="1" fill="#009140"/>
<rect x="181.8" y="64" width="26.3" height="1" fill="#00be55"/>
<rect x="181.8" y="65" width="26.3" height="1" fill="#00a84b"/>
<rect x="181.8" y="66" width="26.3" height="1" fill="#02c75a"/>
<rect x="181.8" y="67" width="26.3" height="1" fill="#00be55"/>
<rect x="181.8" y="68" width="26.3" height="1" fill="#00a048"/>
<rect x="181.8" y="69" width="26.3" height="1" fill="#00a84b"/>
<rect x="181.8" y="70" width="26.3" height="1" fill="#02c75a"/>
<rect x="181.8" y="71" width="26.3" height="2" fill="#00a048"/>
<rect x="181.8" y="73" width="26.3" height="2" fill="#009b46"/>
<rect x="181.8" y="75" width="26.3" height="2" fill="#00a048"/>
<rect x="181.8" y="77" width="26.3" height="1" fill="#00af4e"/>
<rect x="181.8" y="78" width="26.3" height="1" fill="#007d38"/>
<rect x="181.8" y="79" width="26.3" height="1" fill="#007635"/>
<rect x="181.8" y="80" width="26.3" height="1" fill="#007d38"/>
<rect x="181.8" y="81" width="26.3" height="2" fill="#009140"/>
<rect x="181.8" y="83" width="26.3" height="2" fill="#008c3e"/>
<rect x="181.8" y="85" width="26.3" height="2" fill="#009643"/>
<rect x="181.8" y="87" width="26.3" height="1" fill="#007d38"/>
<rect x="181.8" y="88" width="26.3" height="1" fill="#009643"/>
<rect x="181.8" y="89" width="26.3" height="1" fill="#007635"/>
<rect x="181.8" y="90" width="26.3" height="1" fill="#009140"/>
<rect x="181.8" y="91" width="26.3" height="1" fill="#007635"/>
<rect x="181.8" y="92" width="26.3" height="1" fill="#008c3e"/>
<rect x="181.8" y="93" width="26.3" height="1" fill="#006e32"/>
<rect x="181.8" y="94" width="26.3" height="1" fill="#008c3e"/>
<rect x="181.8" y="95" width="26.3" height="1" fill="#007635"/>
<rect x="181.8" y="96" width="26.3" height="1" fill="#009140"/>
<rect x="181.8" y="97" width="26.3" height="1" fill="#005f2c"/>
<rect x="181.8" y="98" width="26.3" height="1" fill="#009643"/>
<rect x="181.8" y="99" width="26.3" height="1" fill="#00a048"/>
<rect x="181.8" y="100" width="26.3" height="4" fill="#008c3e"/>
<rect x="181.8" y="104" width="26.3" height="1" fill="#00843b"/>
<rect x="181.8" y="105" width="26.3" height="2" fill="#008c3e"/>
<rect x="181.8" y="107" width="26.3" height="2" fill="#009140"/>
<rect x="181.8" y="109" width="26.3" height="2" fill="#00843b"/>
<rect x="181.8" y="111" width="26.3" height="1" fill="#009643"/>
<rect x="181.8" y="112" width="26.3" height="1" fill="#008c3e"/>
<rect x="181.8" y="113" width="26.3" height="2" fill="#00843b"/>
<rect x="181.8" y="115" width="26.3" height="2" fill="#009140"/>
<rect x="181.8" y="117" width="26.3" height="2" fill="#008c3e"/>
<rect x="181.8" y="119" width="26.3" height="2" fill="#009140"/>
<rect x="181.8" y="121" width="26.3" height="1" fill="#00843b"/>
<rect x="181.8" y="122" width="26.3" height="1" fill="#00662f"/>
<rect x="181.8" y="123" width="26.3" height="1" fill="#004420"/>
<rect x="181.8" y="124" width="26.3" height="1" fill="#004a23"/>
<rect x="181.8" y="125" width="26.3" height="1" fill="#005829"/>
<rect x="181.8" y="126" width="26.3" height="3" fill="#00662f"/>
<rect x="181.8" y="129" width="26.3" height="2" fill="#006e32"/>
<rect x="181.8" y="131" width="26.3" height="1" fill="#00662f"/>
<rect x="181.8" y="132" width="26.3" height="1" fill="#008c3e"/>
<rect x="181.8" y="133" width="26.3" height="2" fill="#007d38"/>
<rect x="181.8" y="135" width="26.3" height="4" fill="#009140"/>
<rect x="181.8" y="139" width="26.3" height="3" fill="#008c3e"/>
<rect x="181.8" y="142" width="26.3" height="3" fill="#009b46"/>
<rect x="181.8" y="145" width="26.3" height="4" fill="#00a048"/>
<rect x="181.8" y="149" width="26.3" height="4" fill="#00a84b"/>
<rect x="181.8" y="153" width="26.3" height="1" fill="#00a048"/>
<rect x="181.8" y="154" width="26.3" height="1" fill="#00a84b"/>
<rect x="181.8" y="155" width="26.3" height="1" fill="#009b46"/>
<rect x="181.8" y="156" width="26.3" height="1" fill="#00843b"/>
<rect x="181.8" y="157" width="26.3" height="1" fill="#008c3e"/>
<rect x="181.8" y="158" width="26.3" height="1" fill="#00be55"/>
<rect x="181.8" y="159" width="26.3" height="2" fill="#00a048"/>
<rect x="181.8" y="161" width="26.3" height="1" fill="#009b46"/>
<rect x="181.8" y="162" width="26.3" height="1" fill="#00b652"/>
<rect x="181.8" y="163" width="26.3" height="1" fill="#00af4e"/>
<rect x="181.8" y="164" width="26.3" height="1" fill="#05d05f"/>
<rect x="181.8" y="165" width="26.3" height="1" fill="#00b652"/>
<rect x="181.8" y="166" width="26.3" height="1" fill="#08d864"/>
<rect x="181.8" y="167" width="26.3" height="2" fill="#00b652"/>
<rect x="181.8" y="169" width="26.3" height="1" fill="#00a84b"/>
<rect x="181.8" y="170" width="26.3" height="1" fill="#00be55"/>
<rect x="181.8" y="171" width="26.3" height="1" fill="#009b46"/>
<rect x="181.8" y="172" width="26.3" height="1" fill="#00b652"/>
<rect x="181.8" y="173" width="26.3" height="1" fill="#00a84b"/>
<rect x="181.8" y="174" width="26.3" height="1" fill="#000904"/>
<rect x="181.8" y="175" width="26.3" height="1" fill="#003219"/>
<rect x="181.8" y="176" width="26.3" height="1" fill="#000000"/>
<rect x="181.8" y="177" width="26.3" height="2" fill="#310000"/>
<rect x="181.8" y="179" width="26.3" height="2" fill="#460000"/>
<rect x="181.8" y="181" width="26.3" height="2" fill="#4e0000"/>
<rect x="181.8" y="183" width="26.3" height="2" fill="#6c0000"/>
<rect x="181.8" y="185" width="26.3" height="1" fill="#640000"/>
<rect x="181.8" y="186" width="26.3" height="2" fill="#2a0000"/>
<rect x="181.8" y="188" width="26.3" height="1" fill="#000000"/>
<rect x="181.8" y="189" width="26.3" height="2" fill="#8c0000"/>
<rect x="181.8" y="191" width="26.3" height="1" fill="#840000"/>
<rect x="181.8" y="192" width="26.3" height="2" fill="#7c0000"/>
<rect x="181.8" y="194" width="26.3" height="1" fill="#840000"/>
<rect x="181.8" y="195" width="26.3" height="2" fill="#7c0000"/>
<rect x="181.8" y="197" width="26.3" height="2" fill="#840000"/>
<rect x="181.8" y="199" width="26.3" height="4" fill="#b20000"/>
<rect x="181.8" y="203" width="26.3" height="1" fill="#c20000"/>
<rect x="181.8" y="204" width="26.3" height="1" fill="#8c0000"/>
<rect x="181.8" y="205" width="26.3" height="2" fill="#7c0000"/>
<rect x="181.8" y="207" width="26.3" height="2" fill="#740000"/>
<rect x="181.8" y="209" width="26.3" height="1" fill="#840000"/>
<rect x="181.8" y="210" width="26.3" height="1" fill="#7c0000"/>
<rect x="181.8" y="211" width="26.3" height="2" fill="#840000"/>
<rect x="181.8" y="213" width="26.3" height="2" fill="#740000"/>
<rect x="181.8" y="215" width="26.3" height="3" fill="#840000"/>
<rect x="181.8" y="218" width="26.3" height="1" fill="#9b0000"/>
<rect x="181.8" y="219" width="26.3" height="2" fill="#940000"/>
<rect x="181.8" y="221" width="26.3" height="2" fill="#8c0000"/>
<rect x="181.8" y="223" width="26.3" height="2" fill="#a30000"/>
<rect x="181.8" y="225" width="26.3" height="2" fill="#ab0000"/>
<rect x="181.8" y="227" width="26.3" height="1" fill="#940000"/>
<rect x="181.8" y="228" width="26.3" height="1" fill="#740000"/>
<rect x="181.8" y="229" width="26.3" height="2" fill="#840000"/>
<rect x="181.8" y="231" width="26.3" height="2" fill="#7c0000"/>
<rect x="181.8" y="233" width="26.3" height="2" fill="#6c0000"/>
<rect x="181.8" y="235" width="26.3" height="2" fill="#840000"/>
<rect x="181.8" y="237" width="26.3" height="1" fill="#8c0000"/>
<rect x="181.8" y="238" width="26.3" height="1" fill="#ab0000"/>
<rect x="181.8" y="239" width="26.3" height="1" fill="#940000"/>
<rect x="181.8" y="240" width="26.3" height="1" fill="#b20000"/>
<rect x="181.8" y="241" width="26.3" height="1" fill="#c20000"/>
<rect x="181.8" y="242" width="26.3" height="2" fill="#840000"/>
<rect x="181.8" y="244" width="26.3" height="1" fill="#7c0000"/>
<rect x="181.8" y="245" width="26.3" height="1" fill="#9b0000"/>
<rect x="181.8" y="246" width="26.3" height="1" fill="#a30000"/>
<rect x="181.8" y="247" width="26.3" height="1" fill="#9b0000"/>
<rect x="181.8" y="248" width="26.3" height="1" fill="#ab0000"/>
<rect x="181.8" y="249" width="26.3" height="1" fill="#a30000"/>
<rect x="181.8" y="250" width="26.3" height="1" fill="#f50000"/>
<rect x="181.8" y="251" width="26.3" height="2" fill="#ee0000"/>
<rect x="181.8" y="253" width="26.3" height="3" fill="#9b0000"/>
<rect x="181.8" y="256" width="26.3" height="1" fill="#940000"/>
<rect x="181.8" y="257" width="26.3" height="1" fill="#ab0000"/>
<rect x="181.8" y="258" width="26.3" height="1" fill="#8c0000"/>
<rect x="181.8" y="259" width="26.3" height="2" fill="#9b0000"/>
<rect x="181.8" y="261" width="26.3" height="2" fill="#a30000"/>
<rect x="181.8" y="263" width="26.3" height="1" fill="#ab0000"/>
<rect x="181.8" y="264" width="26.3" height="3" fill="#940000"/>
<rect x="181.8" y="267" width="26.3" height="2" fill="#8c0000"/>
<rect x="181.8" y="269" width="26.3" height="1" fill="#c20000"/>
<rect x="181.8" y="270" width="26.3" height="1" fill="#b20000"/>
<rect x="181.8" y="271" width="26.3" height="2" fill="#c20000"/>
<rect x="181.8" y="273" width="26.3" height="2" fill="#ab0000"/>
<rect x="181.8" y="275" width="26.3" height="2" fill="#a30000"/>
<rect x="181.8" y="277" width="26.3" height="2" fill="#9b0000"/>
<rect x="181.8" y="279" width="26.3" height="2" fill="#a30000"/>
<rect x="181.8" y="281" width="26.3" height="3" fill="#940000"/>
<rect x="181.8" y="284" width="26.3" height="1" fill="#8c0000"/>
<rect x="181.8" y="285" width="26.3" height="1" fill="#a30000"/>
<rect x="181.8" y="286" width="26.3" height="1" fill="#9b0000"/>
<rect x="181.8" y="287" width="26.3" height="2" fill="#8c0000"/>
<rect x="181.8" y="289" width="26.3" height="4" fill="#940000"/>
<rect x="181.8" y="293" width="26.3" height="2" fill="#9b0000"/>
<rect x="181.8" y="295" width="26.3" height="2" fill="#940000"/>
<rect x="181.8" y="297" width="26.3" height="2" fill="#9b0000"/>
<rect x="181.8" y="299" width="26.3" height="2" fill="#a30000"/>
<rect x="181.8" y="301" width="26.3" height="1" fill="#840000"/>
<rect x="181.8" y="302" width="26.3" height="3" fill="#940000"/>
<rect x="181.8" y="305" width="26.3" height="1" fill="#a30000"/>
<rect x="181.8" y="306" width="26.3" height="3" fill="#940000"/>
<rect x="181.8" y="309" width="26.3" height="1" fill="#9b0000"/>
<rect x="181.8" y="310" width="26.3" height="3" fill="#940000"/>
<rect x="181.8" y="313" width="26.3" height="2" fill="#ab0000"/>
<rect x="181.8" y="315" width="26.3" height="2" fill="#8c0000"/>
<rect x="181.8" y="317" width="26.3" height="1" fill="#940000"/>
<rect x="181.8" y="318" width="26.3" height="1" fill="#740000"/>
<rect x="181.8" y="319" width="26.3" height="2" fill="#8c0000"/>
<rect x="181.8" y="321" width="26.3" height="2" fill="#840000"/>
<rect x="181.8" y="323" width="26.3" height="2" fill="#940000"/>
<rect x="207.8" y="23" width="26.2" height="1" fill="#460000"/>
<rect x="207.8" y="24" width="26.2" height="1" fill="#007d38"/>
<rect x="207.8" y="25" width="26.2" height="1" fill="#008c3e"/>
<rect x="207.8" y="26" width="26.2" height="2" fill="#00a048"/>
<rect x="207.8" y="28" width="26.2" height="2" fill="#005026"/>
<rect x="207.8" y="30" width="26.2" height="1" fill="#005829"/>
<rect x="207.8" y="31" width="26.2" height="1" fill="#004420"/>
<rect x="207.8" y="32" width="26.2" height="1" fill="#005f2c"/>
<rect x="207.8" y="33" width="26.2" height="1" fill="#002d16"/>
<rect x="207.8" y="34" width="26.2" height="1" fill="#007d38"/>
<rect x="207.8" y="35" width="26.2" height="4" fill="#008c3e"/>
<rect x="207.8" y="39" width="26.2" height="4" fill="#009140"/>
<rect x="207.8" y="43" width="26.2" height="1" fill="#000000"/>
<rect x="207.8" y="44" width="26.2" height="1" fill="#008c3e"/>
<rect x="207.8" y="45" width="26.2" height="2" fill="#007d38"/>
<rect x="207.8" y="47" width="26.2" height="2" fill="#008c3e"/>
<rect x="207.8" y="49" width="26.2" height="1" fill="#00a048"/>
<rect x="207.8" y="50" width="26.2" height="1" fill="#00b652"/>
<rect x="207.8" y="51" width="26.2" height="2" fill="#00a048"/>
<rect x="207.8" y="53" width="26.2" height="2" fill="#009b46"/>
<rect x="207.8" y="55" width="26.2" height="2" fill="#005829"/>
<rect x="207.8" y="57" width="26.2" height="1" fill="#009b46"/>
<rect x="207.8" y="58" width="26.2" height="3" fill="#00a048"/>
<rect x="207.8" y="61" width="26.2" height="1" fill="#00af4e"/>
<rect x="207.8" y="62" width="26.2" height="1" fill="#00a048"/>
<rect x="207.8" y="63" width="26.2" height="2" fill="#00a84b"/>
<rect x="207.8" y="65" width="26.2" height="4" fill="#009643"/>
<rect x="207.8" y="69" width="26.2" height="1" fill="#004a23"/>
<rect x="207.8" y="70" width="26.2" height="1" fill="#004420"/>
<rect x="207.8" y="71" width="26.2" height="1" fill="#005026"/>
<rect x="207.8" y="72" width="26.2" height="1" fill="#008c3e"/>
<rect x="207.8" y="73" width="26.2" height="2" fill="#00843b"/>
<rect x="207.8" y="75" width="26.2" height="2" fill="#009140"/>
<rect x="207.8" y="77" width="26.2" height="2" fill="#008c3e"/>
<rect x="207.8" y="79" width="26.2" height="6" fill="#02c75a"/>
<rect x="207.8" y="85" width="26.2" height="1" fill="#00be55"/>
<rect x="207.8" y="86" width="26.2" height="3" fill="#00b652"/>
<rect x="207.8" y="89" width="26.2" height="1" fill="#00a84b"/>
<rect x="207.8" y="90" width="26.2" height="1" fill="#00af4e"/>
<rect x="207.8" y="91" width="26.2" height="2" fill="#00a048"/>
<rect x="207.8" y="93" width="26.2" height="2" fill="#009140"/>
<rect x="207.8" y="95" width="26.2" height="1" fill="#00a84b"/>
<rect x="207.8" y="96" width="26.2" height="1" fill="#00a048"/>
<rect x="207.8" y="97" width="26.2" height="2" fill="#009b46"/>
<rect x="207.8" y="99" width="26.2" height="2" fill="#00b652"/>
<rect x="207.8" y="101" width="26.2" height="2" fill="#00a84b"/>
<rect x="207.8" y="103" width="26.2" height="4" fill="#00a048"/>
<rect x="207.8" y="107" width="26.2" height="1" fill="#009b46"/>
<rect x="207.8" y="108" width="26.2" height="3" fill="#00a048"/>
<rect x="207.8" y="111" width="26.2" height="1" fill="#00b652"/>
<rect x="207.8" y="112" width="26.2" height="1" fill="#00be55"/>
<rect x="207.8" y="113" width="26.2" height="1" fill="#00b652"/>
<rect x="207.8" y="114" width="26.2" height="1" fill="#08d864"/>
<rect x="207.8" y="115" width="26.2" height="1" fill="#00be55"/>
<rect x="207.8" y="116" width="26.2" height="2" fill="#00a048"/>
<rect x="207.8" y="118" width="26.2" height="1" fill="#00a84b"/>
<rect x="207.8" y="119" width="26.2" height="2" fill="#009b46"/>
<rect x="207.8" y="121" width="26.2" height="1" fill="#00a048"/>
<rect x="207.8" y="122" width="26.2" height="1" fill="#00be55"/>
<rect x="207.8" y="123" width="26.2" height="2" fill="#02c75a"/>
<rect x="207.8" y="125" width="26.2" height="1" fill="#00be55"/>
<rect x="207.8" y="126" width="26.2" height="3" fill="#00a048"/>
<rect x="207.8" y="129" width="26.2" height="2" fill="#009b46"/>
<rect x="207.8" y="131" width="26.2" height="1" fill="#00af4e"/>
<rect x="207.8" y="132" width="26.2" height="1" fill="#00b652"/>
<rect x="207.8" y="133" width="26.2" height="4" fill="#00a048"/>
<rect x="207.8" y="137" width="26.2" height="2" fill="#00b652"/>
<rect x="207.8" y="139" width="26.2" height="2" fill="#009b46"/>
<rect x="207.8" y="141" width="26.2" height="2" fill="#00a048"/>
<rect x="207.8" y="143" width="26.2" height="2" fill="#00a84b"/>
<rect x="207.8" y="145" width="26.2" height="2" fill="#00af4e"/>
<rect x="207.8" y="147" width="26.2" height="2" fill="#009b46"/>
<rect x="207.8" y="149" width="26.2" height="2" fill="#00af4e"/>
<rect x="207.8" y="151" width="26.2" height="2" fill="#00a048"/>
<rect x="207.8" y="153" width="26.2" height="2" fill="#00a84b"/>
<rect x="207.8" y="155" width="26.2" height="2" fill="#00a048"/>
<rect x="207.8" y="157" width="26.2" height="1" fill="#009b46"/>
<rect x="207.8" y="158" width="26.2" height="1" fill="#00a84b"/>
<rect x="207.8" y="159" width="26.2" height="2" fill="#009b46"/>
<rect x="207.8" y="161" width="26.2" height="2" fill="#00a048"/>
<rect x="207.8" y="163" width="26.2" height="2" fill="#009643"/>
<rect x="207.8" y="165" width="26.2" height="2" fill="#009b46"/>
<rect x="207.8" y="167" width="26.2" height="2" fill="#00a048"/>
<rect x="207.8" y="169" width="26.2" height="4" fill="#00a84b"/>
<rect x="207.8" y="173" width="26.2" height="1" fill="#009b46"/>
<rect x="207.8" y="174" width="26.2" height="1" fill="#00b652"/>
<rect x="207.8" y="175" width="26.2" height="1" fill="#00af4e"/>
<rect x="207.8" y="176" width="26.2" height="1" fill="#00a84b"/>
<rect x="207.8" y="177" width="26.2" height="1" fill="#000000"/>
<rect x="207.8" y="178" width="26.2" height="4" fill="#640000"/>
<rect x="207.8" y="182" width="26.2" height="1" fill="#4e0000"/>
<rect x="207.8" y="183" width="26.2" height="2" fill="#550000"/>
<rect x="207.8" y="185" width="26.2" height="1" fill="#3f0000"/>
<rect x="207.8" y="186" width="26.2" height="1" fill="#740000"/>
<rect x="207.8" y="187" width="26.2" height="2" fill="#7c0000"/>
<rect x="207.8" y="189" width="26.2" height="2" fill="#840000"/>
<rect x="207.8" y="191" width="26.2" height="2" fill="#740000"/>
<rect x="207.8" y="193" width="26.2" height="2" fill="#840000"/>
<rect x="207.8" y="195" width="26.2" height="4" fill="#740000"/>
<rect x="207.8" y="199" width="26.2" height="2" fill="#7c0000"/>
<rect x="207.8" y="201" width="26.2" height="1" fill="#840000"/>
<rect x="207.8" y="202" width="26.2" height="2" fill="#740000"/>
<rect x="207.8" y="204" width="26.2" height="1" fill="#7c0000"/>
<rect x="207.8" y="205" width="26.2" height="1" fill="#9b0000"/>
<rect x="207.8" y="206" width="26.2" height="1" fill="#8c0000"/>
<rect x="207.8" y="207" width="26.2" height="2" fill="#9b0000"/>
<rect x="207.8" y="209" width="26.2" height="1" fill="#8c0000"/>
<rect x="207.8" y="210" width="26.2" height="3" fill="#9b0000"/>
<rect x="207.8" y="213" width="26.2" height="2" fill="#940000"/>
<rect x="207.8" y="215" width="26.2" height="2" fill="#b20000"/>
<rect x="207.8" y="217" width="26.2" height="2" fill="#ba0000"/>
<rect x="207.8" y="219" width="26.2" height="2" fill="#a30000"/>
<rect x="207.8" y="221" width="26.2" height="2" fill="#9b0000"/>
<rect x="207.8" y="223" width="26.2" height="2" fill="#a30000"/>
<rect x="207.8" y="225" width="26.2" height="3" fill="#9b0000"/>
<rect x="207.8" y="228" width="26.2" height="1" fill="#550000"/>
<rect x="207.8" y="229" width="26.2" height="2" fill="#5c0000"/>
<rect x="207.8" y="231" width="26.2" height="2" fill="#640000"/>
<rect x="207.8" y="233" width="26.2" height="2" fill="#7c0000"/>
<rect x="207.8" y="235" width="26.2" height="1" fill="#840000"/>
<rect x="207.8" y="236" width="26.2" height="2" fill="#6c0000"/>
<rect x="207.8" y="238" width="26.2" height="1" fill="#ab0000"/>
<rect x="207.8" y="239" width="26.2" height="1" fill="#b20000"/>
<rect x="207.8" y="240" width="26.2" height="3" fill="#ba0000"/>
<rect x="207.8" y="243" width="26.2" height="2" fill="#9b0000"/>
<rect x="207.8" y="245" width="26.2" height="2" fill="#8c0000"/>
<rect x="207.8" y="247" width="26.2" height="6" fill="#a30000"/>
<rect x="207.8" y="253" width="26.2" height="1" fill="#840000"/>
<rect x="207.8" y="254" width="26.2" height="2" fill="#a30000"/>
<rect x="207.8" y="256" width="26.2" height="3" fill="#9b0000"/>
<rect x="207.8" y="259" width="26.2" height="2" fill="#840000"/>
<rect x="207.8" y="261" width="26.2" height="1" fill="#c20000"/>
<rect x="207.8" y="262" width="26.2" height="1" fill="#b20000"/>
<rect x="207.8" y="263" width="26.2" height="2" fill="#c20000"/>
<rect x="207.8" y="265" width="26.2" height="2" fill="#ca0000"/>
<rect x="207.8" y="267" width="26.2" height="1" fill="#c20000"/>
<rect x="207.8" y="268" width="26.2" height="1" fill="#ab0000"/>
<rect x="207.8" y="269" width="26.2" height="1" fill="#ba0000"/>
<rect x="207.8" y="270" width="26.2" height="1" fill="#ab0000"/>
<rect x="207.8" y="271" width="26.2" height="1" fill="#ba0000"/>
<rect x="207.8" y="272" width="26.2" height="1" fill="#b20000"/>
<rect x="207.8" y="273" width="26.2" height="2" fill="#ca0000"/>
<rect x="207.8" y="275" width="26.2" height="1" fill="#ba0000"/>
<rect x="207.8" y="276" width="26.2" height="1" fill="#ab0000"/>
<rect x="207.8" y="277" width="26.2" height="4" fill="#ba0000"/>
<rect x="207.8" y="281" width="26.2" height="1" fill="#c20000"/>
<rect x="207.8" y="282" width="26.2" height="1" fill="#d10000"/>
<rect x="207.8" y="283" width="26.2" height="1" fill="#ab0000"/>
<rect x="207.8" y="284" width="26.2" height="2" fill="#b20000"/>
<rect x="207.8" y="286" width="26.2" height="1" fill="#c20000"/>
<rect x="207.8" y="287" width="26.2" height="2" fill="#ab0000"/>
<rect x="207.8" y="289" width="26.2" height="2" fill="#c20000"/>
<rect x="207.8" y="291" width="26.2" height="2" fill="#ba0000"/>
<rect x="207.8" y="293" width="26.2" height="2" fill="#c20000"/>
<rect x="207.8" y="295" width="26.2" height="2" fill="#ba0000"/>
<rect x="207.8" y="297" width="26.2" height="4" fill="#ab0000"/>
<rect x="207.8" y="301" width="26.2" height="2" fill="#c20000"/>
<rect x="207.8" y="303" width="26.2" height="2" fill="#ca0000"/>
<rect x="207.8" y="305" width="26.2" height="2" fill="#9b0000"/>
<rect x="207.8" y="307" width="26.2" height="1" fill="#8c0000"/>
<rect x="207.8" y="308" width="26.2" height="1" fill="#b20000"/>
<rect x="207.8" y="309" width="26.2" height="4" fill="#a30000"/>
<rect x="207.8" y="313" width="26.2" height="1" fill="#9b0000"/>
<rect x="207.8" y="314" width="26.2" height="1" fill="#c20000"/>
<rect x="207.8" y="315" width="26.2" height="2" fill="#d10000"/>
<rect x="207.8" y="317" width="26.2" height="1" fill="#ab0000"/>
<rect x="207.8" y="318" width="26.2" height="1" fill="#c20000"/>
<rect x="207.8" y="319" width="26.2" height="1" fill="#ba0000"/>
<rect x="207.8" y="320" width="26.2" height="1" fill="#9b0000"/>
<rect x="207.8" y="321" width="26.2" height="1" fill="#a30000"/>
<rect x="207.8" y="322" width="26.2" height="3" fill="#ab0000"/>
<rect x="233.7" y="23" width="25.3" height="2" fill="#00371b"/>
<rect x="233.7" y="25" width="25.3" height="2" fill="#000000"/>
<rect x="233.7" y="27" width="25.3" height="2" fill="#00371b"/>
<rect x="233.7" y="29" width="25.3" height="1" fill="#003219"/>
<rect x="233.7" y="30" width="25.3" height="2" fill="#000000"/>
<rect x="233.7" y="32" width="25.3" height="1" fill="#000904"/>
<rect x="233.7" y="33" width="25.3" height="2" fill="#006e32"/>
<rect x="233.7" y="35" width="25.3" height="2" fill="#007d38"/>
<rect x="233.7" y="37" width="25.3" height="1" fill="#006e32"/>
<rect x="233.7" y="38" width="25.3" height="3" fill="#008c3e"/>
<rect x="233.7" y="41" width="25.3" height="4" fill="#007d38"/>
<rect x="233.7" y="45" width="25.3" height="1" fill="#00843b"/>
<rect x="233.7" y="46" width="25.3" height="1" fill="#009b46"/>
<rect x="233.7" y="47" width="25.3" height="1" fill="#00843b"/>
<rect x="233.7" y="48" width="25.3" height="1" fill="#009b46"/>
<rect x="233.7" y="49" width="25.3" height="1" fill="#00843b"/>
<rect x="233.7" y="50" width="25.3" height="1" fill="#009b46"/>
<rect x="233.7" y="51" width="25.3" height="2" fill="#00a84b"/>
<rect x="233.7" y="53" width="25.3" height="1" fill="#008c3e"/>
<rect x="233.7" y="54" width="25.3" height="1" fill="#006e32"/>
<rect x="233.7" y="55" width="25.3" height="1" fill="#00662f"/>
<rect x="233.7" y="56" width="25.3" height="1" fill="#005f2c"/>
<rect x="233.7" y="57" width="25.3" height="1" fill="#007635"/>
<rect x="233.7" y="58" width="25.3" height="1" fill="#00843b"/>
<rect x="233.7" y="59" width="25.3" height="2" fill="#008c3e"/>
<rect x="233.7" y="61" width="25.3" height="2" fill="#007d38"/>
<rect x="233.7" y="63" width="25.3" height="1" fill="#008c3e"/>
<rect x="233.7" y="64" width="25.3" height="1" fill="#00843b"/>
<rect x="233.7" y="65" width="25.3" height="1" fill="#009140"/>
<rect x="233.7" y="66" width="25.3" height="1" fill="#00843b"/>
<rect x="233.7" y="67" width="25.3" height="1" fill="#009140"/>
<rect x="233.7" y="68" width="25.3" height="1" fill="#00843b"/>
<rect x="233.7" y="69" width="25.3" height="2" fill="#00a84b"/>
<rect x="233.7" y="71" width="25.3" height="1" fill="#00a048"/>
<rect x="233.7" y="72" width="25.3" height="2" fill="#005026"/>
<rect x="233.7" y="74" width="25.3" height="1" fill="#006e32"/>
<rect x="233.7" y="75" width="25.3" height="1" fill="#00662f"/>
<rect x="233.7" y="76" width="25.3" height="3" fill="#006e32"/>
<rect x="233.7" y="79" width="25.3" height="1" fill="#00662f"/>
<rect x="233.7" y="80" width="25.3" height="1" fill="#007d38"/>
<rect x="233.7" y="81" width="25.3" height="1" fill="#006e32"/>
<rect x="233.7" y="82" width="25.3" height="1" fill="#00371b"/>
<rect x="233.7" y="83" width="25.3" height="1" fill="#003219"/>
<rect x="233.7" y="84" width="25.3" height="1" fill="#00a84b"/>
<rect x="233.7" y="85" width="25.3" height="4" fill="#00a048"/>
<rect x="233.7" y="89" width="25.3" height="1" fill="#009b46"/>
<rect x="233.7" y="90" width="25.3" height="1" fill="#00a84b"/>
<rect x="233.7" y="91" width="25.3" height="1" fill="#009b46"/>
<rect x="233.7" y="92" width="25.3" height="1" fill="#00843b"/>
<rect x="233.7" y="93" width="25.3" height="6" fill="#008c3e"/>
<rect x="233.7" y="99" width="25.3" height="1" fill="#009140"/>
<rect x="233.7" y="100" width="25.3" height="3" fill="#00843b"/>
<rect x="233.7" y="103" width="25.3" height="2" fill="#008c3e"/>
<rect x="233.7" y="105" width="25.3" height="2" fill="#00be55"/>
<rect x="233.7" y="107" width="25.3" height="1" fill="#02c75a"/>
<rect x="233.7" y="108" width="25.3" height="1" fill="#00be55"/>
<rect x="233.7" y="109" width="25.3" height="1" fill="#05d05f"/>
<rect x="233.7" y="110" width="25.3" height="1" fill="#00af4e"/>
<rect x="233.7" y="111" width="25.3" height="2" fill="#00a048"/>
<rect x="233.7" y="113" width="25.3" height="2" fill="#00a84b"/>
<rect x="233.7" y="115" width="25.3" height="1" fill="#00af4e"/>
<rect x="233.7" y="116" width="25.3" height="2" fill="#009b46"/>
<rect x="233.7" y="118" width="25.3" height="1" fill="#00a048"/>
<rect x="233.7" y="119" width="25.3" height="1" fill="#009b46"/>
<rect x="233.7" y="120" width="25.3" height="1" fill="#00843b"/>
<rect x="233.7" y="121" width="25.3" height="1" fill="#008c3e"/>
<rect x="233.7" y="122" width="25.3" height="1" fill="#00843b"/>
<rect x="233.7" y="123" width="25.3" height="1" fill="#008c3e"/>
<rect x="233.7" y="124" width="25.3" height="1" fill="#007635"/>
<rect x="233.7" y="125" width="25.3" height="2" fill="#009b46"/>
<rect x="233.7" y="127" width="25.3" height="3" fill="#009140"/>
<rect x="233.7" y="130" width="25.3" height="6" fill="#008c3e"/>
<rect x="233.7" y="136" width="25.3" height="1" fill="#007d38"/>
<rect x="233.7" y="137" width="25.3" height="2" fill="#00843b"/>
<rect x="233.7" y="139" width="25.3" height="2" fill="#007d38"/>
<rect x="233.7" y="141" width="25.3" height="4" fill="#008c3e"/>
<rect x="233.7" y="145" width="25.3" height="1" fill="#00a84b"/>
<rect x="233.7" y="146" width="25.3" height="1" fill="#00a048"/>
<rect x="233.7" y="147" width="25.3" height="2" fill="#00a84b"/>
<rect x="233.7" y="149" width="25.3" height="4" fill="#00a048"/>
<rect x="233.7" y="153" width="25.3" height="1" fill="#009643"/>
<rect x="233.7" y="154" width="25.3" height="3" fill="#00a048"/>
<rect x="233.7" y="157" width="25.3" height="2" fill="#009140"/>
<rect x="233.7" y="159" width="25.3" height="5" fill="#008c3e"/>
<rect x="233.7" y="164" width="25.3" height="1" fill="#009140"/>
<rect x="233.7" y="165" width="25.3" height="4" fill="#008c3e"/>
<rect x="233.7" y="169" width="25.3" height="2" fill="#009140"/>
<rect x="233.7" y="171" width="25.3" height="2" fill="#008c3e"/>
<rect x="233.7" y="173" width="25.3" height="3" fill="#00371b"/>
<rect x="233.7" y="176" width="25.3" height="1" fill="#000000"/>
<rect x="233.7" y="177" width="25.3" height="1" fill="#8c0000"/>
<rect x="233.7" y="178" width="25.3" height="1" fill="#840000"/>
<rect x="233.7" y="179" width="25.3" height="4" fill="#7c0000"/>
<rect x="233.7" y="183" width="25.3" height="1" fill="#6c0000"/>
<rect x="233.7" y="184" width="25.3" height="1" fill="#380000"/>
<rect x="233.7" y="185" width="25.3" height="2" fill="#310000"/>
<rect x="233.7" y="187" width="25.3" height="1" fill="#380000"/>
<rect x="233.7" y="188" width="25.3" height="1" fill="#6c0000"/>
<rect x="233.7" y="189" width="25.3" height="2" fill="#7c0000"/>
<rect x="233.7" y="191" width="25.3" height="1" fill="#740000"/>
<rect x="233.7" y="192" width="25.3" height="1" fill="#8c0000"/>
<rect x="233.7" y="193" width="25.3" height="2" fill="#9b0000"/>
<rect x="233.7" y="195" width="25.3" height="2" fill="#a30000"/>
<rect x="233.7" y="197" width="25.3" height="2" fill="#640000"/>
<rect x="233.7" y="199" width="25.3" height="2" fill="#550000"/>
<rect x="233.7" y="201" width="25.3" height="4" fill="#9b0000"/>
<rect x="233.7" y="205" width="25.3" height="3" fill="#7c0000"/>
<rect x="233.7" y="208" width="25.3" height="1" fill="#6c0000"/>
<rect x="233.7" y="209" width="25.3" height="4" fill="#940000"/>
<rect x="233.7" y="213" width="25.3" height="1" fill="#ab0000"/>
<rect x="233.7" y="214" width="25.3" height="7" fill="#940000"/>
<rect x="233.7" y="221" width="25.3" height="1" fill="#a30000"/>
<rect x="233.7" y="222" width="25.3" height="1" fill="#940000"/>
<rect x="233.7" y="223" width="25.3" height="2" fill="#8c0000"/>
<rect x="233.7" y="225" width="25.3" height="2" fill="#a30000"/>
<rect x="233.7" y="227" width="25.3" height="2" fill="#940000"/>
<rect x="233.7" y="229" width="25.3" height="4" fill="#8c0000"/>
<rect x="233.7" y="233" width="25.3" height="1" fill="#940000"/>
<rect x="233.7" y="234" width="25.3" height="1" fill="#a30000"/>
<rect x="233.7" y="235" width="25.3" height="4" fill="#9b0000"/>
<rect x="233.7" y="239" width="25.3" height="1" fill="#a30000"/>
<rect x="233.7" y="240" width="25.3" height="3" fill="#640000"/>
<rect x="233.7" y="243" width="25.3" height="2" fill="#5c0000"/>
<rect x="233.7" y="245" width="25.3" height="2" fill="#9b0000"/>
<rect x="233.7" y="247" width="25.3" height="4" fill="#a30000"/>
<rect x="233.7" y="251" width="25.3" height="1" fill="#940000"/>
<rect x="233.7" y="252" width="25.3" height="1" fill="#000000"/>
<rect x="233.7" y="253" width="25.3" height="2" fill="#a30000"/>
<rect x="233.7" y="255" width="25.3" height="2" fill="#ab0000"/>
<rect x="233.7" y="257" width="25.3" height="2" fill="#8c0000"/>
<rect x="233.7" y="259" width="25.3" height="2" fill="#a30000"/>
<rect x="233.7" y="261" width="25.3" height="2" fill="#ab0000"/>
<rect x="233.7" y="263" width="25.3" height="1" fill="#c20000"/>
<rect x="233.7" y="264" width="25.3" height="2" fill="#ba0000"/>
<rect x="233.7" y="266" width="25.3" height="1" fill="#b20000"/>
<rect x="233.7" y="267" width="25.3" height="2" fill="#ab0000"/>
<rect x="233.7" y="269" width="25.3" height="1" fill="#940000"/>
<rect x="233.7" y="270" width="25.3" height="1" fill="#b20000"/>
<rect x="233.7" y="271" width="25.3" height="1" fill="#ab0000"/>
<rect x="233.7" y="272" width="25.3" height="1" fill="#ca0000"/>
<rect x="233.7" y="273" width="25.3" height="1" fill="#9b0000"/>
<rect x="233.7" y="274" width="25.3" height="1" fill="#ba0000"/>
<rect x="233.7" y="275" width="25.3" height="1" fill="#a30000"/>
<rect x="233.7" y="276" width="25.3" height="1" fill="#c20000"/>
<rect x="233.7" y="277" width="25.3" height="1" fill="#940000"/>
<rect x="233.7" y="278" width="25.3" height="1" fill="#b20000"/>
<rect x="233.7" y="279" width="25.3" height="1" fill="#a30000"/>
<rect x="233.7" y="280" width="25.3" height="1" fill="#ba0000"/>
<rect x="233.7" y="281" width="25.3" height="1" fill="#a30000"/>
<rect x="233.7" y="282" width="25.3" height="1" fill="#c20000"/>
<rect x="233.7" y="283" width="25.3" height="1" fill="#940000"/>
<rect x="233.7" y="284" width="25.3" height="1" fill="#b20000"/>
<rect x="233.7" y="285" width="25.3" height="1" fill="#8c0000"/>
<rect x="233.7" y="286" width="25.3" height="2" fill="#940000"/>
<rect x="233.7" y="288" width="25.3" height="1" fill="#b20000"/>
<rect x="233.7" y="289" width="25.3" height="1" fill="#ab0000"/>
<rect x="233.7" y="290" width="25.3" height="1" fill="#ca0000"/>
<rect x="233.7" y="291" width="25.3" height="1" fill="#9b0000"/>
<rect x="233.7" y="292" width="25.3" height="1" fill="#b20000"/>
<rect x="233.7" y="293" width="25.3" height="1" fill="#a30000"/>
<rect x="233.7" y="294" width="25.3" height="1" fill="#ba0000"/>
<rect x="233.7" y="295" width="25.3" height="1" fill="#a30000"/>
<rect x="233.7" y="296" width="25.3" height="3" fill="#c20000"/>
<rect x="233.7" y="299" width="25.3" height="3" fill="#9b0000"/>
<rect x="233.7" y="302" width="25.3" height="1" fill="#a30000"/>
<rect x="233.7" y="303" width="25.3" height="2" fill="#ab0000"/>
<rect x="233.7" y="305" width="25.3" height="2" fill="#a30000"/>
<rect x="233.7" y="307" width="25.3" height="2" fill="#9b0000"/>
<rect x="233.7" y="309" width="25.3" height="4" fill="#940000"/>
<rect x="233.7" y="313" width="25.3" height="1" fill="#9b0000"/>
<rect x="233.7" y="314" width="25.3" height="1" fill="#ab0000"/>
<rect x="233.7" y="315" width="25.3" height="2" fill="#9b0000"/>
<rect x="233.7" y="317" width="25.3" height="2" fill="#a30000"/>
<rect x="233.7" y="319" width="25.3" height="2" fill="#9b0000"/>
<rect x="233.7" y="321" width="25.3" height="1" fill="#a30000"/>
<rect x="233.7" y="322" width="25.3" height="1" fill="#550000"/>
<rect x="233.7" y="323" width="25.3" height="1" fill="#4e0000"/>
<rect x="233.7" y="324" width="25.3" height="1" fill="#5c0000"/>
</g>
<rect x="25.1" y="325" width="26.8" height="0.6" fill="#003219"/>
<rect x="51.9" y="325" width="25.9" height="0.6" fill="#00be55"/>
<rect x="77.8" y="325" width="26.0" height="0.6" fill="#005026"/>
<rect x="103.8" y="325" width="26.0" height="0.6" fill="#000000"/>
<rect x="129.8" y="325" width="26.0" height="0.6" fill="#002312"/>
<rect x="155.8" y="325" width="26.0" height="0.6" fill="#005026"/>
<rect x="181.8" y="325" width="26.0" height="0.6" fill="#940000"/>
<rect x="207.8" y="325" width="25.9" height="0.6" fill="#ab0000"/>
<rect x="233.7" y="325" width="25.3" height="0.6" fill="#5c0000"/>
<line x1="39.2" y1="20.3" x2="39.2" y2="23" stroke="#111" stroke-width="0.6"/>
<text transform="translate(41.3,18.3) rotate(-89.96) scale(0.86,1)" font-family="Liberation Serif, serif" font-size="8" fill="#000" stroke="#000" stroke-width="0.05">HS3</text>
<line x1="64.5" y1="20.3" x2="64.5" y2="23" stroke="#111" stroke-width="0.6"/>
<text transform="translate(66.6,18.3) rotate(-89.96) scale(0.86,1)" font-family="Liberation Serif, serif" font-size="8" fill="#000" stroke="#000" stroke-width="0.05">HS5</text>
<line x1="90.1" y1="20.3" x2="90.1" y2="23" stroke="#111" stroke-width="0.6"/>
<text transform="translate(92.2,18.3) rotate(-89.96) scale(0.86,1)" font-family="Liberation Serif, serif" font-size="8" fill="#000" stroke="#000" stroke-width="0.05">HS1</text>
<line x1="116.2" y1="20.3" x2="116.2" y2="23" stroke="#111" stroke-width="0.6"/>
<text transform="translate(118.3,18.3) rotate(-89.96) scale(0.86,1)" font-family="Liberation Serif, serif" font-size="8" fill="#000" stroke="#000" stroke-width="0.05">HS4</text>
<line x1="141.4" y1="20.3" x2="141.4" y2="23" stroke="#111" stroke-width="0.6"/>
<text transform="translate(143.5,18.3) rotate(-89.96) scale(0.86,1)" font-family="Liberation Serif, serif" font-size="8" fill="#000" stroke="#000" stroke-width="0.05">LS2</text>
<line x1="167.4" y1="20.3" x2="167.4" y2="23" stroke="#111" stroke-width="0.6"/>
<text transform="translate(169.5,18.3) rotate(-89.96) scale(0.86,1)" font-family="Liberation Serif, serif" font-size="8" fill="#000" stroke="#000" stroke-width="0.05">LS3</text>
<line x1="193.9" y1="20.3" x2="193.9" y2="23" stroke="#111" stroke-width="0.6"/>
<text transform="translate(196.0,18.3) rotate(-89.96) scale(0.86,1)" font-family="Liberation Serif, serif" font-size="8" fill="#000" stroke="#000" stroke-width="0.05">LS1</text>
<line x1="220.0" y1="20.3" x2="220.0" y2="23" stroke="#111" stroke-width="0.6"/>
<text transform="translate(222.1,18.3) rotate(-89.96) scale(0.86,1)" font-family="Liberation Serif, serif" font-size="8" fill="#000" stroke="#000" stroke-width="0.05">LS4</text>
<line x1="247.0" y1="20.3" x2="247.0" y2="23" stroke="#111" stroke-width="0.6"/>
<text transform="translate(249.1,18.3) rotate(-89.96) scale(0.86,1)" font-family="Liberation Serif, serif" font-size="8" fill="#000" stroke="#000" stroke-width="0.05">LS5</text>
<text x="-1.0" y="9.3" font-family="Liberation Serif, serif" font-weight="bold" font-size="13.6" fill="#000">a</text>
<text x="291.9" y="9.3" font-family="Liberation Serif, serif" font-weight="bold" font-size="13.6" fill="#000">b</text>
<text x="-0.5" y="357.8" font-family="Liberation Serif, serif" font-weight="bold" font-size="13.6" fill="#000">c</text>
<text x="290.9" y="357.8" font-family="Liberation Serif, serif" font-weight="bold" font-size="13.6" fill="#000">d</text>
<g>
<rect x="336.9" y="70.90" width="47.1" height="7.16" fill="#fedd8c"/>
<rect x="336.9" y="77.94" width="47.1" height="7.16" fill="#fed278"/>
<rect x="336.9" y="84.99" width="47.1" height="7.16" fill="#fffad2"/>
<rect x="336.9" y="92.03" width="47.1" height="7.16" fill="#fff0be"/>
<rect x="336.9" y="99.08" width="47.1" height="7.16" fill="#eb781e"/>
<rect x="336.9" y="106.12" width="47.1" height="7.16" fill="#e67319"/>
<rect x="336.9" y="113.16" width="47.1" height="7.16" fill="#dc6414"/>
<rect x="336.9" y="120.21" width="47.1" height="7.16" fill="#fdbe4b"/>
<rect x="336.9" y="127.25" width="47.1" height="7.16" fill="#fda532"/>
<rect x="336.9" y="134.29" width="47.1" height="7.16" fill="#fda02d"/>
<rect x="336.9" y="141.34" width="47.1" height="7.16" fill="#fdaf3c"/>
<rect x="336.9" y="148.38" width="47.1" height="7.16" fill="#fa9628"/>
<rect x="336.9" y="155.43" width="47.1" height="7.16" fill="#fdb946"/>
<rect x="336.9" y="162.47" width="47.1" height="7.16" fill="#fdaa37"/>
<rect x="336.9" y="169.51" width="47.1" height="7.16" fill="#fdb946"/>
<rect x="336.9" y="176.56" width="47.1" height="7.16" fill="#fca02d"/>
<rect x="336.9" y="183.60" width="47.1" height="14.21" fill="#f89123"/>
<rect x="336.9" y="197.69" width="47.1" height="7.16" fill="#fff5c8"/>
<rect x="336.9" y="204.73" width="47.1" height="7.16" fill="#fee8a5"/>
<rect x="336.9" y="211.78" width="47.1" height="14.21" fill="#fff8cd"/>
<rect x="336.9" y="225.86" width="47.1" height="7.16" fill="#fec864"/>
<rect x="336.9" y="232.91" width="47.1" height="63.39" fill="#d9d9d9"/>
<rect x="383.9" y="70.90" width="46.9" height="7.16" fill="#fffcd2"/>
<rect x="383.9" y="77.94" width="46.9" height="7.16" fill="#fee196"/>
<rect x="383.9" y="84.99" width="46.9" height="7.16" fill="#fee8a5"/>
<rect x="383.9" y="92.03" width="46.9" height="7.16" fill="#fec45a"/>
<rect x="383.9" y="99.08" width="46.9" height="7.16" fill="#fed98e"/>
<rect x="383.9" y="106.12" width="46.9" height="7.16" fill="#fffad2"/>
<rect x="383.9" y="113.16" width="46.9" height="7.16" fill="#fdaa3c"/>
<rect x="383.9" y="120.21" width="46.9" height="112.82" fill="#d9d9d9"/>
<rect x="383.9" y="232.91" width="46.9" height="7.16" fill="#fecd6e"/>
<rect x="383.9" y="239.95" width="46.9" height="7.16" fill="#fedc8c"/>
<rect x="383.9" y="246.99" width="46.9" height="7.16" fill="#fec45a"/>
<rect x="383.9" y="254.04" width="46.9" height="7.16" fill="#fdaa37"/>
<rect x="383.9" y="261.08" width="46.9" height="7.16" fill="#fee196"/>
<rect x="383.9" y="268.12" width="46.9" height="7.16" fill="#fff0b4"/>
<rect x="383.9" y="275.17" width="46.9" height="7.16" fill="#fee8a5"/>
<rect x="383.9" y="282.21" width="46.9" height="14.09" fill="#fff5c3"/>
</g>
<g transform="rotate(0.03 493 171)" font-family="Liberation Sans, Arial, sans-serif" font-size="6.85" fill="#111">
<text x="432.6" y="76.89">R-HSA-1280218: Adaptive Immune System</text>
<text x="432.6" y="83.93">R-HSA-162909: Host Interactions of HIV factors</text>
<text x="432.6" y="90.98">R-HSA-8978868: Fatty acid metabolism</text>
<text x="432.6" y="98.02">R-HSA-9711123: Cellular response to chemical stress</text>
<text x="432.6" y="105.06">R-HSA-422475: Axon guidance</text>
<text x="432.6" y="112.11">R-HSA-5653656: Vesicle-mediated transport</text>
<text x="432.6" y="119.15">R-HSA-6798695: Neutrophil degranulation</text>
<text x="432.6" y="126.19">R-HSA-5423646: Aflatoxin activation and detoxification</text>
<text x="432.6" y="133.24">R-HSA-9012999: RHO GTPase cycle</text>
<text x="432.6" y="140.28">R-HSA-5627123: RHO GTPases activate PAKs</text>
<text x="432.6" y="147.33">R-HSA-373760: L1CAM interactions</text>
<text x="432.6" y="154.37">R-HSA-109582: Hemostasis</text>
<text x="432.6" y="161.41">R-HSA-9013420: RHOU GTPase cycle</text>
<text x="432.6" y="168.46">R-HSA-8873719: RAB geranylgeranylation</text>
<text x="432.6" y="175.50">R-HSA-446203: Asparagine N-linked glycosylation</text>
<text x="432.6" y="182.54">R-HSA-6811434: COPI-dependent Golgi-to-ER retrograde traffic</text>
<text x="432.6" y="189.59">R-HSA-5357801: Programmed Cell Death</text>
<text x="432.6" y="196.63">R-HSA-112316: Neuronal System</text>
<text x="432.6" y="203.68">R-HSA-422356: Regulation of insulin secretion</text>
<text x="432.6" y="210.72">R-HSA-9679506: SARS-CoV Infections</text>
<text x="432.6" y="217.76">R-HSA-163125: Post-translational modification: synthesis of GPI-anchored proteins</text>
<text x="432.6" y="224.81">R-HSA-382551: Transport of small molecules</text>
<text x="432.6" y="231.85">R-HSA-2029482: Regulation of actin dynamics for phagocytic cup formation</text>
<text x="432.6" y="238.89">R-HSA-2151201: Transcriptional activation of mitochondrial biogenesis</text>
<text x="432.6" y="245.94">R-HSA-9674555: Signaling by CSF3 (G-CSF)</text>
<text x="432.6" y="252.98">R-HSA-72203: Processing of Capped Intron-Containing Pre-mRNA</text>
<text x="432.6" y="260.03">R-HSA-8875656: MET receptor recycling</text>
<text x="432.6" y="267.07">R-HSA-5655302: Signaling by FGFR1 in disease</text>
<text x="432.6" y="274.11">R-HSA-2142753: Arachidonic acid metabolism</text>
<text x="432.6" y="281.16">R-HSA-9609507: Protein localization</text>
<text x="432.6" y="288.20">R-HSA-71387: Metabolism of carbohydrates</text>
<text x="432.6" y="295.24">R-HSA-71291: Metabolism of amino acids and derivatives</text>
</g>
<defs><linearGradient id="g432" x1="0" x2="1" y1="0" y2="0">
<stop offset="0.00" stop-color="#e8e8dc"/>
<stop offset="0.05" stop-color="#f6f6dc"/>
<stop offset="0.10" stop-color="#ffffd0"/>
<stop offset="0.15" stop-color="#ffeea2"/>
<stop offset="0.20" stop-color="#fed976"/>
<stop offset="0.30" stop-color="#fe9f30"/>
<stop offset="0.50" stop-color="#da6212"/>
<stop offset="0.75" stop-color="#b04509"/>
<stop offset="1.00" stop-color="#8a3004"/>
</linearGradient></defs>
<rect x="432.2" y="35.9" width="44.6" height="11.0" fill="url(#g432)"/>
<text x="454.5" y="34.2" text-anchor="middle" font-family="Liberation Sans, sans-serif" font-size="4.1" fill="#000" stroke="#000" stroke-width="0.08">-log10(P)</text>
<text x="432.2" y="52.6" text-anchor="middle" font-family="Liberation Sans, sans-serif" font-size="3.5" fill="#000" stroke="#000" stroke-width="0.06">0</text>
<text x="436.7" y="52.6" text-anchor="middle" font-family="Liberation Sans, sans-serif" font-size="3.5" fill="#000" stroke="#000" stroke-width="0.06">2</text>
<text x="438.9" y="52.6" text-anchor="middle" font-family="Liberation Sans, sans-serif" font-size="3.5" fill="#000" stroke="#000" stroke-width="0.06">3</text>
<text x="441.1" y="52.6" text-anchor="middle" font-family="Liberation Sans, sans-serif" font-size="3.5" fill="#000" stroke="#000" stroke-width="0.06">4</text>
<text x="445.6" y="52.6" text-anchor="middle" font-family="Liberation Sans, sans-serif" font-size="3.5" fill="#000" stroke="#000" stroke-width="0.06">6</text>
<text x="454.5" y="52.6" text-anchor="middle" font-family="Liberation Sans, sans-serif" font-size="3.5" fill="#000" stroke="#000" stroke-width="0.06">10</text>
<text x="476.8" y="52.6" text-anchor="middle" font-family="Liberation Sans, sans-serif" font-size="3.5" fill="#000" stroke="#000" stroke-width="0.06">20</text>
<path d="M432.2 46.9L432.2 48.2 M436.7 46.9L436.7 48.2 M438.9 46.9L438.9 48.2 M441.1 46.9L441.1 48.2 M445.6 46.9L445.6 48.2 M454.5 46.9L454.5 48.2 M476.8 46.9L476.8 48.2" stroke="#222" stroke-width="0.35" fill="none"/>
<path d="M360.6 27.2L360.6 69.8 M407.6 27.2L407.6 69.8 M360.6 27.2L407.6 27.2" stroke="#1c1c1c" stroke-width="0.62" fill="none"/>
<path d="M329.7 74.4L336.9 74.4 M329.7 81.5L336.9 81.5 M329.7 74.4L329.7 81.5 M328.3 77.9L329.7 77.9 M328.3 77.9L328.3 88.5 M328.3 88.5L336.9 88.5 M324.0 83.6L328.3 83.6 M324.0 83.6L324.0 95.6 M324.0 95.6L336.9 95.6 M318.4 89.2L324.0 89.2 M318.4 89.2L318.4 111.0 M329.7 102.6L336.9 102.6 M329.7 109.6L336.9 109.6 M329.7 102.6L329.7 109.6 M326.6 106.1L329.7 106.1 M326.6 106.1L326.6 116.7 M326.6 116.7L336.9 116.7 M318.4 111.0L326.6 111.0 M303.5 100.2L318.4 100.2 M303.5 100.2L303.5 202.4 M303.5 202.4L323.4 202.4 M293.2 151.0L303.5 151.0 M293.2 151.0L293.2 269.0 M293.2 269.0L327.9 269.0 M335.7 123.9L335.7 192.0 M323.4 181.8L323.4 223.3 M323.4 181.8L329.1 181.8 M329.1 173.0L329.1 190.9 M329.1 173.0L335.3 173.0 M329.1 190.9L335.3 190.9 M323.4 223.3L329.1 223.3 M329.1 216.4L329.1 229.4 M329.1 216.4L336.9 216.4 M329.1 229.4L336.9 229.4 M335.3 199.0L335.3 217.0 M335.5 236.2L335.5 250.5 M329.5 245.3L329.5 257.3 M329.5 245.3L335.5 245.3 M329.5 257.3L336.9 257.3 M327.9 251.6L327.9 286.7 M327.9 251.6L329.5 251.6 M327.9 286.7L335.5 286.7 M335.5 264.5L335.5 293.0" stroke="#1c1c1c" stroke-width="0.62" fill="none"/>
<text transform="translate(359.7,298.8) rotate(90)" font-family="Liberation Sans, sans-serif" font-size="4.4" fill="#000" stroke="#000" stroke-width="0.06">DOWN</text>
<text transform="translate(406.7,298.8) rotate(90)" font-family="Liberation Sans, sans-serif" font-size="4.4" fill="#000" stroke="#000" stroke-width="0.06">UP</text>
<g>
<rect x="48.2" y="408.00" width="44.1" height="6.71" fill="#e36c15"/>
<rect x="48.2" y="414.59" width="44.1" height="6.71" fill="#fda02d"/>
<rect x="48.2" y="421.19" width="44.1" height="6.71" fill="#e46e19"/>
<rect x="48.2" y="427.78" width="44.1" height="6.71" fill="#fdaf3c"/>
<rect x="48.2" y="434.38" width="44.1" height="6.71" fill="#ec7a1c"/>
<rect x="48.2" y="440.97" width="44.1" height="6.71" fill="#ea761b"/>
<rect x="48.2" y="447.57" width="44.1" height="6.71" fill="#f38720"/>
<rect x="48.2" y="454.16" width="44.1" height="6.71" fill="#b6440c"/>
<rect x="48.2" y="460.75" width="44.1" height="6.71" fill="#fdaf3c"/>
<rect x="48.2" y="467.35" width="44.1" height="6.71" fill="#fdb946"/>
<rect x="48.2" y="473.94" width="44.1" height="6.71" fill="#fdaa37"/>
<rect x="48.2" y="480.54" width="44.1" height="6.71" fill="#fda532"/>
<rect x="48.2" y="487.13" width="44.1" height="6.71" fill="#fdb441"/>
<rect x="48.2" y="493.73" width="44.1" height="6.71" fill="#fa9628"/>
<rect x="48.2" y="500.32" width="44.1" height="6.71" fill="#fdb946"/>
<rect x="48.2" y="506.91" width="44.1" height="6.71" fill="#fed982"/>
<rect x="48.2" y="513.51" width="44.1" height="6.71" fill="#fedc8c"/>
<rect x="48.2" y="520.10" width="44.1" height="6.71" fill="#fecd6e"/>
<rect x="48.2" y="526.70" width="44.1" height="6.71" fill="#fed982"/>
<rect x="48.2" y="533.29" width="44.1" height="6.71" fill="#fed478"/>
<rect x="48.2" y="539.89" width="44.1" height="6.71" fill="#fede91"/>
<rect x="48.2" y="546.48" width="44.1" height="6.71" fill="#fdbe4b"/>
<rect x="48.2" y="553.07" width="44.1" height="6.71" fill="#fed478"/>
<rect x="48.2" y="559.67" width="44.1" height="6.71" fill="#fec85f"/>
<rect x="48.2" y="566.26" width="44.1" height="6.71" fill="#fff8cd"/>
<rect x="48.2" y="572.86" width="44.1" height="6.71" fill="#fff0b4"/>
<rect x="48.2" y="579.45" width="44.1" height="6.71" fill="#ffebaa"/>
<rect x="48.2" y="586.05" width="44.1" height="6.71" fill="#fff0b4"/>
<rect x="48.2" y="592.64" width="44.1" height="6.71" fill="#fee69b"/>
<rect x="48.2" y="599.23" width="44.1" height="13.31" fill="#fff8cd"/>
<rect x="48.2" y="612.42" width="44.1" height="26.38" fill="#d9d9d9"/>
<rect x="92.2" y="408.00" width="43.8" height="6.71" fill="#fdae3a"/>
<rect x="92.2" y="414.59" width="43.8" height="6.71" fill="#f48a22"/>
<rect x="92.2" y="421.19" width="43.8" height="6.71" fill="#ffeca5"/>
<rect x="92.2" y="427.78" width="43.8" height="6.71" fill="#fed476"/>
<rect x="92.2" y="434.38" width="43.8" height="178.17" fill="#d9d9d9"/>
<rect x="92.2" y="612.42" width="43.8" height="6.71" fill="#fec24e"/>
<rect x="92.2" y="619.02" width="43.8" height="6.71" fill="#fdb43c"/>
<rect x="92.2" y="625.61" width="43.8" height="6.71" fill="#fa9123"/>
<rect x="92.2" y="632.21" width="43.8" height="6.59" fill="#fff0b4"/>
</g>
<g transform="rotate(0.03 198 508)" font-family="Liberation Sans, Arial, sans-serif" font-size="6.45" fill="#111">
<text x="137.6" y="412.92">GO:0000323: lytic vacuole</text>
<text x="137.6" y="419.51">GO:0060205: cytoplasmic vesicle lumen</text>
<text x="137.6" y="426.11">GO:0030424: axon</text>
<text x="137.6" y="432.70">GO:0015629: actin cytoskeleton</text>
<text x="137.6" y="439.30">GO:0030425: dendrite</text>
<text x="137.6" y="445.89">GO:0030863: cortical cytoskeleton</text>
<text x="137.6" y="452.48">GO:0030658: transport vesicle membrane</text>
<text x="137.6" y="459.08">GO:0098978: glutamatergic synapse</text>
<text x="137.6" y="465.67">GO:0044291: cell-cell contact zone</text>
<text x="137.6" y="472.27">GO:0099513: polymeric cytoskeletal fiber</text>
<text x="137.6" y="478.86">GO:0042470: melanosome</text>
<text x="137.6" y="485.46">GO:0030139: endocytic vesicle</text>
<text x="137.6" y="492.05">GO:0030667: secretory granule membrane</text>
<text x="137.6" y="498.64">GO:0031968: organelle outer membrane</text>
<text x="137.6" y="505.24">GO:0099568: cytoplasmic region</text>
<text x="137.6" y="511.83">GO:0048471: perinuclear region of cytoplasm</text>
<text x="137.6" y="518.43">GO:0043025: neuronal cell body</text>
<text x="137.6" y="525.02">GO:0030666: endocytic vesicle membrane</text>
<text x="137.6" y="531.62">GO:0098982: GABA-ergic synapse</text>
<text x="137.6" y="538.21">GO:0030136: clathrin-coated vesicle</text>
<text x="137.6" y="544.80">GO:1905369: endopeptidase complex</text>
<text x="137.6" y="551.40">GO:0098797: plasma membrane protein complex</text>
<text x="137.6" y="557.99">GO:0005635: nuclear envelope</text>
<text x="137.6" y="564.59">GO:0044304: main axon</text>
<text x="137.6" y="571.18">GO:0150034: distal axon</text>
<text x="137.6" y="577.78">GO:0072562: blood microparticle</text>
<text x="137.6" y="584.37">GO:0016459: myosin complex</text>
<text x="137.6" y="590.96">GO:0031594: neuromuscular junction</text>
<text x="137.6" y="597.56">GO:0097060: synaptic membrane</text>
<text x="137.6" y="604.15">GO:0031091: platelet alpha granule</text>
<text x="137.6" y="610.75">GO:0010494: cytoplasmic stress granule</text>
<text x="137.6" y="617.34">GO:0005759: mitochondrial matrix</text>
<text x="137.6" y="623.94">GO:1990229: iron-sulfur cluster assembly complex</text>
<text x="137.6" y="630.53">GO:0043202: lysosomal lumen</text>
<text x="137.6" y="637.12">GO:0005681: spliceosomal complex</text>
</g>
<defs><linearGradient id="g136" x1="0" x2="1" y1="0" y2="0">
<stop offset="0.00" stop-color="#e8e8dc"/>
<stop offset="0.05" stop-color="#f6f6dc"/>
<stop offset="0.10" stop-color="#ffffd0"/>
<stop offset="0.15" stop-color="#ffeea2"/>
<stop offset="0.20" stop-color="#fed976"/>
<stop offset="0.30" stop-color="#fe9f30"/>
<stop offset="0.50" stop-color="#da6212"/>
<stop offset="0.75" stop-color="#b04509"/>
<stop offset="1.00" stop-color="#8a3004"/>
</linearGradient></defs>
<rect x="136.4" y="375.2" width="42.3" height="10.5" fill="url(#g136)"/>
<text x="157.6" y="373.6" text-anchor="middle" font-family="Liberation Sans, sans-serif" font-size="4.1" fill="#000" stroke="#000" stroke-width="0.08">-log10(P)</text>
<text x="136.4" y="391.2" text-anchor="middle" font-family="Liberation Sans, sans-serif" font-size="3.5" fill="#000" stroke="#000" stroke-width="0.06">0</text>
<text x="140.6" y="391.2" text-anchor="middle" font-family="Liberation Sans, sans-serif" font-size="3.5" fill="#000" stroke="#000" stroke-width="0.06">2</text>
<text x="142.7" y="391.2" text-anchor="middle" font-family="Liberation Sans, sans-serif" font-size="3.5" fill="#000" stroke="#000" stroke-width="0.06">3</text>
<text x="144.9" y="391.2" text-anchor="middle" font-family="Liberation Sans, sans-serif" font-size="3.5" fill="#000" stroke="#000" stroke-width="0.06">4</text>
<text x="149.1" y="391.2" text-anchor="middle" font-family="Liberation Sans, sans-serif" font-size="3.5" fill="#000" stroke="#000" stroke-width="0.06">6</text>
<text x="157.6" y="391.2" text-anchor="middle" font-family="Liberation Sans, sans-serif" font-size="3.5" fill="#000" stroke="#000" stroke-width="0.06">10</text>
<text x="178.7" y="391.2" text-anchor="middle" font-family="Liberation Sans, sans-serif" font-size="3.5" fill="#000" stroke="#000" stroke-width="0.06">20</text>
<path d="M136.4 385.7L136.4 387.0 M140.6 385.7L140.6 387.0 M142.7 385.7L142.7 387.0 M144.9 385.7L144.9 387.0 M149.1 385.7L149.1 387.0 M157.6 385.7L157.6 387.0 M178.7 385.7L178.7 387.0" stroke="#222" stroke-width="0.35" fill="none"/>
<path d="M69.5 366.4L69.5 408.0 M114.2 366.4L114.2 408.0 M69.5 366.4L114.2 366.4" stroke="#1c1c1c" stroke-width="0.62" fill="none"/>
<path d="M39.5 411.3L48.2 411.3 M39.5 417.9L48.2 417.9 M39.5 411.3L39.5 417.9 M39.5 424.5L48.2 424.5 M39.5 431.1L48.2 431.1 M39.5 424.5L39.5 431.1 M35.5 414.6L39.5 414.6 M35.5 427.8L39.5 427.8 M35.5 414.6L35.5 427.8 M17.3 421.1L35.5 421.1 M17.3 421.1L17.3 526.3 M17.3 526.3L37.3 526.3 M7.3 473.6L17.3 473.6 M7.3 473.6L7.3 629.0 M7.3 629.0L34.6 629.0 M46.8 437.0L46.8 450.0 M41.6 445.4L41.6 457.1 M41.6 445.4L48.2 445.4 M41.6 457.1L48.2 457.1 M40.3 451.1L40.3 496.1 M40.3 451.1L41.6 451.1 M40.3 496.1L46.8 496.1 M46.8 464.0L46.8 504.0 M37.3 474.5L37.3 579.1 M37.3 474.5L40.3 474.5 M37.3 579.1L41.8 579.1 M41.8 556.0L41.8 602.3 M41.8 556.0L47.2 556.0 M41.8 602.3L47.2 602.3 M47.2 520.0L47.2 565.0 M47.2 572.0L47.2 608.0 M41.8 618.6L41.8 628.5 M41.8 618.6L47.2 618.6 M41.8 628.5L48.2 628.5 M46.5 615.4L46.5 622.0 M34.6 623.6L34.6 635.1 M34.6 623.6L41.8 623.6 M34.6 635.1L48.2 635.1" stroke="#1c1c1c" stroke-width="0.62" fill="none"/>
<text transform="translate(68.6,640.8) rotate(90)" font-family="Liberation Sans, sans-serif" font-size="4.1" fill="#000" stroke="#000" stroke-width="0.06">DOWN</text>
<text transform="translate(113.3,640.8) rotate(90)" font-family="Liberation Sans, sans-serif" font-size="4.1" fill="#000" stroke="#000" stroke-width="0.06">UP</text>
<ellipse transform="translate(444.3,485.8) scale(1,1.037) rotate(45)" rx="93.0" ry="44.4" fill="#0000ff" fill-opacity="0.333" stroke="none"/>
<ellipse transform="translate(483.3,461.9) scale(1,1.037) rotate(45)" rx="93.5" ry="43.5" fill="#ffff00" fill-opacity="0.333" stroke="none"/>
<ellipse transform="translate(492.7,461.9) scale(1,1.037) rotate(-45)" rx="93.5" ry="43.5" fill="#00ff00" fill-opacity="0.333" stroke="none"/>
<ellipse transform="translate(531.7,485.8) scale(1,1.037) rotate(-45)" rx="93.0" ry="44.4" fill="#ff0000" fill-opacity="0.333" stroke="none"/>
<ellipse transform="translate(444.3,485.8) scale(1,1.037) rotate(45)" rx="93.0" ry="44.4" fill="none" stroke="#111" stroke-width="0.65"/>
<ellipse transform="translate(483.3,461.9) scale(1,1.037) rotate(45)" rx="93.5" ry="43.5" fill="none" stroke="#111" stroke-width="0.65"/>
<ellipse transform="translate(492.7,461.9) scale(1,1.037) rotate(-45)" rx="93.5" ry="43.5" fill="none" stroke="#111" stroke-width="0.65"/>
<ellipse transform="translate(531.7,485.8) scale(1,1.037) rotate(-45)" rx="93.0" ry="44.4" fill="none" stroke="#111" stroke-width="0.65"/>
<g transform="rotate(0.03 488 480)" font-family="Liberation Serif, serif" font-weight="bold" font-size="7.8" text-anchor="middle" fill="#000">
<text x="403.8" y="464.0">247</text>
<text x="448.5" y="406.0">237</text>
<text x="526.5" y="406.0">441</text>
<text x="572.5" y="464.0">48</text>
<text x="429.5" y="437.0">0</text>
<text x="488.0" y="435.0">15</text>
<text x="546.5" y="437.0">69</text>
<text x="456.0" y="470.5">0</text>
<text x="519.8" y="470.5">2</text>
<text x="438.5" y="508.0">12</text>
<text x="487.8" y="501.0">0</text>
<text x="536.5" y="508.0">2</text>
<text x="468.0" y="525.0">3</text>
<text x="507.0" y="525.0">0</text>
<text x="488.0" y="545.0">1</text>
</g>
<g transform="translate(365.3,412.4) rotate(-52.0)" font-family="Liberation Serif, serif" font-weight="bold" font-size="8.1" text-anchor="middle" fill="#000">
<text x="0" y="0.0">DEPs (up)</text>
<text x="0" y="11.2">(HS vs LS)</text>
</g>
<g transform="translate(406.0,386.5) rotate(-47.5)" font-family="Liberation Serif, serif" font-weight="bold" font-size="7.7" text-anchor="middle" fill="#000">
<text x="0" y="0.0">DEPs (down)</text>
<text x="0" y="10.4">(HS vs LS)</text>
</g>
<g transform="translate(560.8,390.7) rotate(45.5)" font-family="Liberation Serif, serif" font-weight="bold" font-size="8.2" text-anchor="middle" fill="#000">
<text x="0" y="0.0">NFT proteome</text>
</g>
<g transform="translate(601.5,417.0) rotate(47.5)" font-family="Liberation Serif, serif" font-weight="bold" font-size="7.8" text-anchor="middle" fill="#000">
<text x="0" y="0.0">pTau interactors</text>
</g>
<g transform="rotate(0.03 406 570)" font-family="Liberation Serif, serif" font-size="7.1" text-anchor="middle" fill="#000" stroke="#000" stroke-width="0.08">
<text x="406.0" y="549.8">AMPH</text>
<text x="406.0" y="557.9">PRDX1</text>
<text x="406.0" y="566.0">VDAC1</text>
<text x="406.0" y="574.1">MYL6</text>
<text x="406.0" y="582.2">XRCC5</text>
<text x="406.0" y="590.3">PEBP1</text>
<text x="406.0" y="598.4">RBM14</text>
<text x="406.0" y="606.5">FUBP1</text>
<text x="406.0" y="614.6">COX5A</text>
<text x="406.0" y="622.7">FABP5</text>
<text x="406.0" y="630.8">NASP</text>
<text x="406.0" y="638.9">FUS</text>
</g>
<g transform="rotate(0.03 439 592)" font-family="Liberation Serif, serif" font-size="7.1" text-anchor="middle" fill="#000" stroke="#000" stroke-width="0.08">
<text x="438.8" y="572.0">PRDX5</text>
<text x="438.8" y="580.1">COX5B</text>
<text x="438.8" y="588.2">MAP4</text>
</g>
<g transform="rotate(0.03 477 599)" font-family="Liberation Serif, serif" font-size="7.1" text-anchor="middle" fill="#000" stroke="#000" stroke-width="0.08">
<text x="476.6" y="578.8">CDS2</text>
<text x="476.6" y="586.9">PYGB</text>
<text x="476.6" y="595.0">ANXA2</text>
<text x="476.6" y="603.1">DDB1</text>
<text x="476.6" y="611.2">CAP2</text>
<text x="476.6" y="619.3">CPNE6</text>
<text x="476.6" y="627.4">SYN2</text>
<text x="476.6" y="635.5">VPS35</text>
<text x="476.6" y="643.6">CRYM</text>
<text x="476.6" y="651.7">FLOT1</text>
<text x="476.6" y="659.8">MYO5A</text>
<text x="476.6" y="667.9">AP2B1</text>
<text x="476.6" y="676.0">PLEC</text>
<text x="476.6" y="684.1">MYH9</text>
<text x="476.6" y="692.2">PRKDC</text>
</g>
<g transform="rotate(0.03 509 607)" font-family="Liberation Serif, serif" font-size="7.1" text-anchor="middle" fill="#000" stroke="#000" stroke-width="0.08">
<text x="509.4" y="586.6">CALR</text>
</g>
<g transform="rotate(0.03 541 595)" font-family="Liberation Serif, serif" font-size="7.1" text-anchor="middle" fill="#000" stroke="#000" stroke-width="0.08">
<text x="541.4" y="574.9">APOE</text>
<text x="541.4" y="583.4">PSMD2</text>
</g>
<g transform="rotate(0.03 575 560)" font-family="Liberation Serif, serif" font-size="7.1" text-anchor="middle" fill="#000" stroke="#000" stroke-width="0.08">
<text x="575.0" y="540.0">KIF5C</text>
<text x="575.0" y="548.1">AP3B2</text>
</g>
<line x1="436.2" y1="508.7" x2="409.2" y2="539.0" stroke="#111" stroke-width="0.6"/>
<polygon points="405.6,543.0 407.7,537.6 410.7,540.3" fill="#111"/>
<line x1="466.3" y1="526.3" x2="441.6" y2="561.0" stroke="#111" stroke-width="0.6"/>
<polygon points="438.5,565.4 440.0,559.8 443.3,562.2" fill="#111"/>
<line x1="488.0" y1="437.0" x2="477.3" y2="561.9" stroke="#111" stroke-width="0.6"/>
<polygon points="476.8,567.3 475.3,561.7 479.3,562.1" fill="#111"/>
<line x1="489.0" y1="545.0" x2="504.9" y2="573.3" stroke="#111" stroke-width="0.6"/>
<polygon points="507.5,578.0 503.1,574.3 506.6,572.3" fill="#111"/>
<line x1="520.2" y1="471.5" x2="540.4" y2="560.9" stroke="#111" stroke-width="0.6"/>
<polygon points="541.6,566.2 538.5,561.4 542.4,560.5" fill="#111"/>
<line x1="541.5" y1="507.3" x2="569.8" y2="530.6" stroke="#111" stroke-width="0.6"/>
<polygon points="574.0,534.0 568.6,532.1 571.1,529.0" fill="#111"/>
</svg>
</body></html>
